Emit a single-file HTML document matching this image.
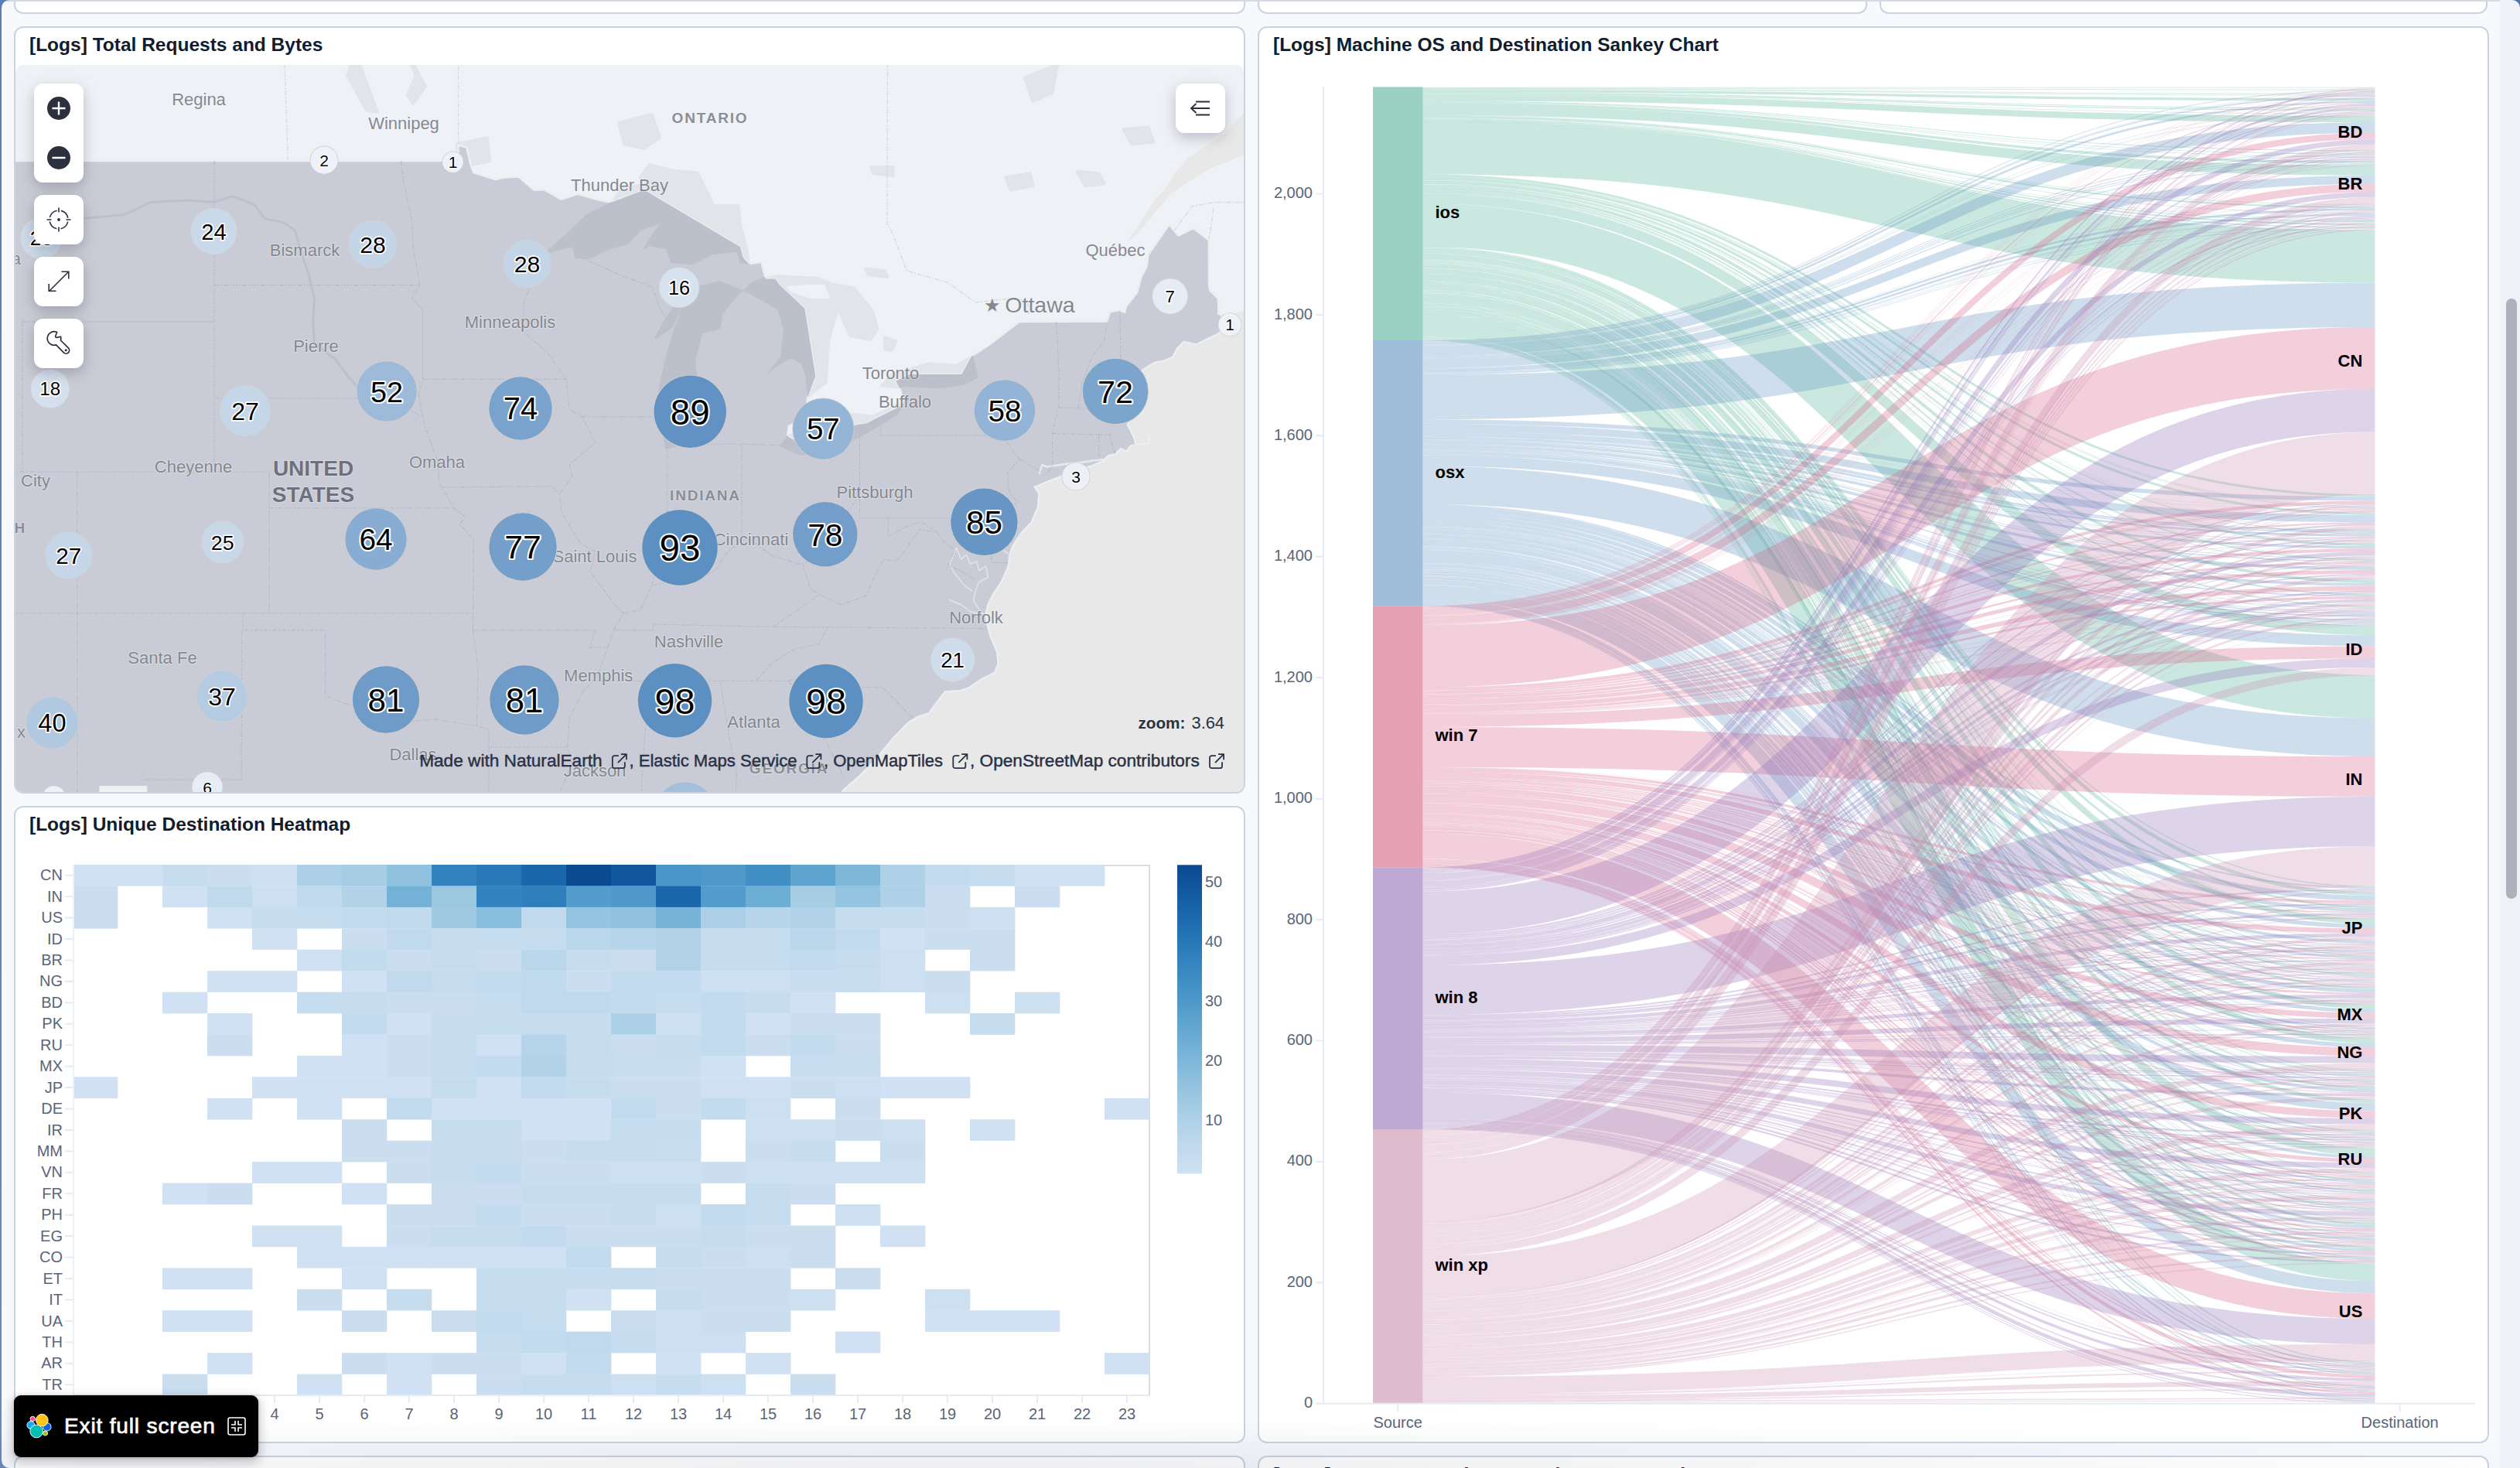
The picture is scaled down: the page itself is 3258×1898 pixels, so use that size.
<!DOCTYPE html><html><head><meta charset="utf-8"><title>[Logs] Web Traffic</title><style>
*{box-sizing:border-box;margin:0;padding:0}
html,body{width:3258px;height:1898px;overflow:hidden}
body{background:#f7f9fd;font-family:"Liberation Sans", Arial, sans-serif;position:relative}
.p{position:absolute;background:#fff;border:2px solid #cad3e2;border-radius:12px}
.t{position:absolute;left:18px;top:8px;font-weight:700;font-size:24.5px;line-height:28px;color:#111c2c;white-space:nowrap}
svg{position:absolute;left:0;top:0}
</style></head><body>
<div class="p" style="left:18px;top:-40px;width:1592px;height:58px"></div>
<div class="p" style="left:1626px;top:-40px;width:788px;height:58px"></div>
<div class="p" style="left:2430px;top:-40px;width:786px;height:58px"></div>
<div class="p" style="left:18px;top:34px;width:1592px;height:992px"><div class="t">[Logs] Total Requests and Bytes</div></div>
<div class="p" style="left:18px;top:1042px;width:1592px;height:824px"><div class="t">[Logs] Unique Destination Heatmap</div></div>
<div class="p" style="left:1626px;top:34px;width:1592px;height:1832px"><div class="t">[Logs] Machine OS and Destination Sankey Chart</div></div>
<div class="p" style="left:18px;top:1882px;width:1592px;height:200px"></div>
<div class="p" style="left:1626px;top:1882px;width:1592px;height:200px"><div class="t" style="top:9px">[Logs] Response Codes Over Time + Annotations</div></div>
<div style="position:absolute;left:0;top:0;width:3232px;height:2px;background:#d3dae6"></div>
<svg width="3258" height="1898" viewBox="0 0 3258 1898">
<defs><clipPath id="mclip"><path d="M20,94 a10,10 0 0 1 10,-10 H1598 a10,10 0 0 1 10,10 V1014 a10,10 0 0 1 -10,10 H30 a10,10 0 0 1 -10,-10 Z"/></clipPath>
<clipPath id="usclip"><path d="M-22.6,208.0 L592.5,208.0 L592.5,187.4 L603.2,190.6 L608.6,213.4 L612.1,223.1 L640.5,232.2 L651.1,229.5 L670.6,228.5 L690.1,245.6 L704.3,245.6 L725.6,257.8 L746.8,250.9 L775.2,258.9 L790.5,261.5 L833.0,245.6 L957.1,319.2 L960.7,333.2 L968.5,341.4 L984.4,338.9 L989.7,360.4 L1002.2,360.4 L1007.5,368.1 L1040.5,399.0 L1054.3,486.0 L1044.0,514.7 L1041.2,534.1 L1028.8,546.1 L1019.9,550.9 L1018.1,562.8 L1019.9,565.2 L1044.0,578.0 L1085.5,553.3 L1120.9,547.0 L1165.3,524.4 L1167.8,517.1 L1163.5,502.6 L1158.2,492.8 L1175.9,484.0 L1243.3,484.0 L1255.7,460.9 L1278.7,446.0 L1317.8,416.1 L1431.2,415.6 L1434.8,403.6 L1445.4,401.0 L1454.3,403.6 L1456.0,396.0 L1470.2,378.3 L1475.5,357.9 L1482.6,345.0 L1484.4,329.6 L1511.7,290.0 L1518.1,298.4 L1523.4,304.6 L1542.9,295.2 L1562.8,310.4 L1563.1,368.1 L1564.2,375.7 L1574.8,385.9 L1575.5,406.1 L1578.4,406.6 L1584.0,420.0 L1575.7,431.4 L1560.7,438.4 L1546.5,445.5 L1530.5,442.0 L1521.7,450.8 L1516.4,461.5 L1504.0,466.8 L1493.4,468.6 L1484.5,473.9 L1477.4,478.3 L1468.0,510.0 L1457.9,550.0 L1463.2,558.9 L1466.8,567.7 L1468.6,574.8 L1461.5,576.6 L1456.2,583.7 L1449.1,580.1 L1442.0,587.2 L1433.1,589.0 L1429.6,592.5 L1427.0,595.5 L1411.0,602.5 L1392.0,609.0 L1372.0,616.0 L1352.0,623.5 L1341.0,628.5 L1337.5,629.3 L1343.4,638.1 L1341.9,655.7 L1333.1,676.2 L1321.4,687.9 L1309.7,705.4 L1305.3,717.2 L1303.8,731.8 L1295.0,752.3 L1284.8,767.0 L1277.5,781.6 L1274.5,793.3 L1276.0,805.0 L1280.4,822.6 L1289.2,843.1 L1290.6,857.8 L1286.3,869.5 L1268.7,878.3 L1254.0,888.5 L1242.3,892.9 L1221.8,894.4 L1207.2,913.4 L1201.3,922.2 L1186.7,926.6 L1174.9,933.9 L1157.4,951.5 L1142.7,969.1 L1128.1,986.6 L1110.5,1004.2 L1090.0,1021.8 L1078.3,1039.4 L189.1,1070.3 L189.1,1017.2 L129.5,1017.2 L129.5,1035.9 L-22.6,1035.9Z"/></clipPath>
<filter id="sh" x="-50%" y="-50%" width="200%" height="200%"><feDropShadow dx="0" dy="6" stdDeviation="9" flood-color="#07101f" flood-opacity="0.22"/></filter></defs>
<g clip-path="url(#mclip)">
<rect x="20" y="84" width="1588" height="940" fill="#eef1f5"/>
<path d="M1626.3,396.0 L1583.7,408.6 L1578.4,406.6 L1584.0,420.0 L1575.7,431.4 L1560.7,438.4 L1546.5,445.5 L1530.5,442.0 L1521.7,450.8 L1516.4,461.5 L1504.0,466.8 L1493.4,468.6 L1484.5,473.9 L1477.4,478.3 L1468.0,510.0 L1457.9,550.0 L1463.2,558.9 L1466.8,567.7 L1468.6,574.8 L1461.5,576.6 L1456.2,583.7 L1449.1,580.1 L1442.0,587.2 L1433.1,589.0 L1429.6,592.5 L1427.0,595.5 L1411.0,602.5 L1392.0,609.0 L1372.0,616.0 L1352.0,623.5 L1341.0,628.5 L1337.5,629.3 L1343.4,638.1 L1341.9,655.7 L1333.1,676.2 L1321.4,687.9 L1309.7,705.4 L1305.3,717.2 L1303.8,731.8 L1295.0,752.3 L1284.8,767.0 L1277.5,781.6 L1274.5,793.3 L1276.0,805.0 L1280.4,822.6 L1289.2,843.1 L1290.6,857.8 L1286.3,869.5 L1268.7,878.3 L1254.0,888.5 L1242.3,892.9 L1221.8,894.4 L1207.2,913.4 L1201.3,922.2 L1186.7,926.6 L1174.9,933.9 L1157.4,951.5 L1142.7,969.1 L1128.1,986.6 L1110.5,1004.2 L1090.0,1021.8 L1078.3,1039.4 L1626.3,1070.3Z" fill="#e8e8e8"/>
<path d="M1623.3,133.0 L1608.3,145.3 L1582.4,173.9 L1552.4,193.0 L1536.1,203.9 L1519.7,222.9 L1506.1,244.7 L1492.5,258.4 L1476.2,285.6 L1457.1,312.8 L1470.7,301.9 L1497.9,269.3 L1514.3,250.2 L1536.1,235.2 L1566.1,217.5 L1608.3,199.8 L1623.3,193.0Z" fill="#e8e8e8"/>
<path d="M700.7,329.6 L739.8,319.2 L743.3,333.7 L761.0,335.8 L789.4,321.8 L810.7,316.6 L828.4,298.4 L853.2,289.5 L839.0,308.8 L830.2,324.4 L839.0,318.2 L860.3,321.8 L867.4,339.9 L895.8,342.5 L920.6,329.6 L952.5,325.9 L956.1,339.9 L970.2,342.5 L966.7,319.2 L959.6,293.1 L956.1,264.2 L924.1,264.2 L902.9,221.5 L871.0,218.8 L839.0,210.7 L824.9,229.5 L831.9,237.6 L803.6,240.2 L789.4,261.5 L757.5,277.4 L722.0,311.4Z" fill="#e1e5ea"/>
<path d="M860.3,580.9 L853.2,538.9 L849.7,514.7 L855.0,485.5 L862.1,456.0 L871.0,426.1 L881.6,401.0 L869.2,423.6 L847.9,438.6 L846.1,436.1 L860.3,411.1 L881.6,380.8 L899.3,370.6 L931.2,363.0 L961.4,375.7 L952.5,383.3 L934.8,406.1 L931.2,426.1 L908.2,431.1 L899.3,465.8 L901.1,485.5 L910.0,514.7 L906.4,548.5 L888.7,574.7Z" fill="#e1e5ea"/>
<path d="M961.4,375.7 L970.2,365.5 L988.0,357.9 L1005.7,355.3 L1058.9,357.9 L1076.6,365.5 L1105.0,370.6 L1129.8,401.0 L1136.9,426.1 L1126.3,441.1 L1097.9,436.1 L1083.7,403.6 L1073.1,441.1 L1069.5,495.3 L1044.7,514.7 L1041.2,485.5 L1035.8,470.8 L1023.4,463.4 L1009.2,470.8 L991.5,483.0 L1009.2,460.9 L1012.8,426.1 L1005.7,401.0 L984.4,388.4Z" fill="#e1e5ea"/>
<path d="M1007.5,577.1 L1019.9,560.4 L1041.2,562.8 L1062.4,550.9 L1087.3,531.6 L1115.6,535.5 L1128.0,536.5 L1161.7,521.0 L1168.8,522.0 L1160.0,536.5 L1138.3,549.9 L1112.1,565.2 L1069.5,586.6 L1034.1,589.0Z" fill="#e1e5ea"/>
<path d="M1136.9,500.1 L1151.1,483.0 L1200.7,468.3 L1236.2,470.8 L1257.5,458.4 L1264.6,487.9 L1246.8,497.7 L1214.9,502.6 L1168.8,500.1 L1161.7,502.6Z" fill="#e1e5ea"/>
<path d="M1027.0,546.1 L1034.1,531.6 L1042.9,536.5 L1042.9,546.1Z" fill="#e1e5ea"/>
<path d="M459.6,69.3 L480.9,125.7 L488.0,145.1 L473.8,142.3 L449.0,97.6Z" fill="#e1e5ea" stroke="#e1e5ea" stroke-width="4" stroke-linejoin="round"/>
<path d="M527.0,69.3 L550.0,111.7 L534.1,134.0 L527.0,122.9 L537.6,97.6Z" fill="#e1e5ea" stroke="#e1e5ea" stroke-width="4" stroke-linejoin="round"/>
<path d="M590.8,186.3 L629.8,178.1 L633.4,208.0 L608.6,213.4 L592.6,208.0Z" fill="#e1e5ea" stroke="#e1e5ea" stroke-width="4" stroke-linejoin="round"/>
<path d="M800.0,158.9 L842.6,147.9 L853.2,178.1 L831.9,191.7 L807.1,186.3Z" fill="#e1e5ea" stroke="#e1e5ea" stroke-width="4" stroke-linejoin="round"/>
<path d="M1119.2,347.6 L1144.0,350.2 L1147.5,357.9 L1122.7,355.3Z" fill="#e1e5ea" stroke="#e1e5ea" stroke-width="4" stroke-linejoin="round"/>
<path d="M1144.0,436.1 L1158.2,441.1 L1152.9,453.5 L1144.0,451.0Z" fill="#e1e5ea" stroke="#e1e5ea" stroke-width="4" stroke-linejoin="round"/>
<path d="M1392.2,221.5 L1420.6,224.2 L1427.7,237.6 L1402.9,240.2Z" fill="#e1e5ea" stroke="#e1e5ea" stroke-width="4" stroke-linejoin="round"/>
<path d="M1300.0,229.5 L1331.9,224.2 L1335.5,240.2 L1307.1,245.6Z" fill="#e1e5ea" stroke="#e1e5ea" stroke-width="4" stroke-linejoin="round"/>
<path d="M1126.3,216.1 L1154.6,216.1 L1154.6,226.9 L1129.8,224.2Z" fill="#e1e5ea" stroke="#e1e5ea" stroke-width="4" stroke-linejoin="round"/>
<path d="M1324.8,100.5 L1367.4,83.5 L1360.3,120.1 L1335.5,131.2Z" fill="#e1e5ea" stroke="#e1e5ea" stroke-width="4" stroke-linejoin="round"/>
<path d="M1452.5,167.2 L1484.4,164.4 L1491.5,183.6 L1463.1,186.3Z" fill="#e1e5ea" stroke="#e1e5ea" stroke-width="4" stroke-linejoin="round"/>
<path d="M1016.3,370.6 L1041.2,368.1 L1066.0,368.1 L1073.1,385.9 L1048.3,385.9 L1023.4,378.3Z" fill="#eef1f5"/>
<path d="M367.4,69.3 L372.4,208.0" fill="none" stroke="#d5d9e0" stroke-width="1.3" stroke-dasharray="6 2 2 2"/>
<path d="M592.5,187.4 L592.5,69.3" fill="none" stroke="#d5d9e0" stroke-width="1.3" stroke-dasharray="6 2 2 2"/>
<path d="M1147.5,69.3 L1146.8,287.9 L1154.6,303.6 L1172.4,350.2 L1225.6,365.5 L1261.0,390.9 L1307.1,385.9 L1328.4,388.4 L1330.2,406.1" fill="none" stroke="#d5d9e0" stroke-width="1.3" stroke-dasharray="6 2 2 2"/>
<path d="M1518.1,298.4 L1541.1,266.8 L1569.5,261.5 L1626.3,261.5" fill="none" stroke="#d5d9e0" stroke-width="1.3" stroke-dasharray="6 2 2 2"/>
<path d="M1562.8,310.4 L1569.5,266.8" fill="none" stroke="#d5d9e0" stroke-width="1.3" stroke-dasharray="6 2 2 2"/>
<path d="M-22.6,208.0 L592.5,208.0 L592.5,187.4 L603.2,190.6 L608.6,213.4 L612.1,223.1 L640.5,232.2 L651.1,229.5 L670.6,228.5 L690.1,245.6 L704.3,245.6 L725.6,257.8 L746.8,250.9 L775.2,258.9 L790.5,261.5 L833.0,245.6 L957.1,319.2 L960.7,333.2 L968.5,341.4 L984.4,338.9 L989.7,360.4 L1002.2,360.4 L1007.5,368.1 L1040.5,399.0 L1054.3,486.0 L1044.0,514.7 L1041.2,534.1 L1028.8,546.1 L1019.9,550.9 L1018.1,562.8 L1019.9,565.2 L1044.0,578.0 L1085.5,553.3 L1120.9,547.0 L1165.3,524.4 L1167.8,517.1 L1163.5,502.6 L1158.2,492.8 L1175.9,484.0 L1243.3,484.0 L1255.7,460.9 L1278.7,446.0 L1317.8,416.1 L1431.2,415.6 L1434.8,403.6 L1445.4,401.0 L1454.3,403.6 L1456.0,396.0 L1470.2,378.3 L1475.5,357.9 L1482.6,345.0 L1484.4,329.6 L1511.7,290.0 L1518.1,298.4 L1523.4,304.6 L1542.9,295.2 L1562.8,310.4 L1563.1,368.1 L1564.2,375.7 L1574.8,385.9 L1575.5,406.1 L1578.4,406.6 L1584.0,420.0 L1575.7,431.4 L1560.7,438.4 L1546.5,445.5 L1530.5,442.0 L1521.7,450.8 L1516.4,461.5 L1504.0,466.8 L1493.4,468.6 L1484.5,473.9 L1477.4,478.3 L1468.0,510.0 L1457.9,550.0 L1463.2,558.9 L1466.8,567.7 L1468.6,574.8 L1461.5,576.6 L1456.2,583.7 L1449.1,580.1 L1442.0,587.2 L1433.1,589.0 L1429.6,592.5 L1427.0,595.5 L1411.0,602.5 L1392.0,609.0 L1372.0,616.0 L1352.0,623.5 L1341.0,628.5 L1337.5,629.3 L1343.4,638.1 L1341.9,655.7 L1333.1,676.2 L1321.4,687.9 L1309.7,705.4 L1305.3,717.2 L1303.8,731.8 L1295.0,752.3 L1284.8,767.0 L1277.5,781.6 L1274.5,793.3 L1276.0,805.0 L1280.4,822.6 L1289.2,843.1 L1290.6,857.8 L1286.3,869.5 L1268.7,878.3 L1254.0,888.5 L1242.3,892.9 L1221.8,894.4 L1207.2,913.4 L1201.3,922.2 L1186.7,926.6 L1174.9,933.9 L1157.4,951.5 L1142.7,969.1 L1128.1,986.6 L1110.5,1004.2 L1090.0,1021.8 L1078.3,1039.4 L189.1,1070.3 L189.1,1017.2 L129.5,1017.2 L129.5,1035.9 L-22.6,1035.9Z" fill="#c9ccd6" stroke="#eceef2" stroke-width="2.4" stroke-linejoin="round"/>
<path d="M1344.0,612.0 L1347.3,601.0 L1353.5,603.5 L1380.0,599.6 L1397.7,597.9 L1415.4,595.2 L1426.0,594.0" fill="none" stroke="#e6e8ed" stroke-width="2.6" stroke-linejoin="round" stroke-linecap="round"/>
<path d="M1468.6,574.8 L1484.5,573.1 L1486.3,564.2 L1481.0,558.9" fill="none" stroke="#eceef2" stroke-width="2.2" stroke-linejoin="round"/>
<path d="M1227.7,728.9 L1236.5,708.4 L1242.3,723.0 L1249.6,717.2 L1254.0,728.9 L1262.8,726.0 L1265.7,737.7 L1274.5,731.8 L1277.5,746.5 L1265.7,752.3 L1261.4,764.0 L1258.4,775.7 L1265.7,787.5 L1273.1,796.3" fill="none" stroke="#dfe2e8" stroke-width="1.7" stroke-linejoin="round" stroke-linecap="round"/>
<path d="M1227.7,728.9 L1233.5,740.6 L1248.2,758.2 L1257.0,764.0" fill="none" stroke="#dfe2e8" stroke-width="1.7" stroke-linejoin="round" stroke-linecap="round"/>
<path d="M1227.7,775.7 L1242.3,781.6 L1254.0,790.4 L1265.7,793.3" fill="none" stroke="#dfe2e8" stroke-width="1.7" stroke-linejoin="round" stroke-linecap="round"/>
<path d="M1305.3,717.2 L1295.0,709.8 L1286.3,696.7" fill="none" stroke="#dfe2e8" stroke-width="1.7" stroke-linejoin="round" stroke-linecap="round"/>
<g clip-path="url(#usclip)">
<path d="M700.7,329.6 L739.8,319.2 L743.3,333.7 L761.0,335.8 L789.4,321.8 L810.7,316.6 L828.4,298.4 L853.2,289.5 L839.0,308.8 L830.2,324.4 L839.0,318.2 L860.3,321.8 L867.4,339.9 L895.8,342.5 L920.6,329.6 L952.5,325.9 L956.1,339.9 L970.2,342.5 L966.7,319.2 L959.6,293.1 L956.1,264.2 L924.1,264.2 L902.9,221.5 L871.0,218.8 L839.0,210.7 L824.9,229.5 L831.9,237.6 L803.6,240.2 L789.4,261.5 L757.5,277.4 L722.0,311.4Z" fill="#bcc0cb"/>
<path d="M860.3,580.9 L853.2,538.9 L849.7,514.7 L855.0,485.5 L862.1,456.0 L871.0,426.1 L881.6,401.0 L869.2,423.6 L847.9,438.6 L846.1,436.1 L860.3,411.1 L881.6,380.8 L899.3,370.6 L931.2,363.0 L961.4,375.7 L952.5,383.3 L934.8,406.1 L931.2,426.1 L908.2,431.1 L899.3,465.8 L901.1,485.5 L910.0,514.7 L906.4,548.5 L888.7,574.7Z" fill="#bcc0cb"/>
<path d="M961.4,375.7 L970.2,365.5 L988.0,357.9 L1005.7,355.3 L1058.9,357.9 L1076.6,365.5 L1105.0,370.6 L1129.8,401.0 L1136.9,426.1 L1126.3,441.1 L1097.9,436.1 L1083.7,403.6 L1073.1,441.1 L1069.5,495.3 L1044.7,514.7 L1041.2,485.5 L1035.8,470.8 L1023.4,463.4 L1009.2,470.8 L991.5,483.0 L1009.2,460.9 L1012.8,426.1 L1005.7,401.0 L984.4,388.4Z" fill="#bcc0cb"/>
<path d="M1007.5,577.1 L1019.9,560.4 L1041.2,562.8 L1062.4,550.9 L1087.3,531.6 L1115.6,535.5 L1128.0,536.5 L1161.7,521.0 L1168.8,522.0 L1160.0,536.5 L1138.3,549.9 L1112.1,565.2 L1069.5,586.6 L1034.1,589.0Z" fill="#bcc0cb"/>
<path d="M1136.9,500.1 L1151.1,483.0 L1200.7,468.3 L1236.2,470.8 L1257.5,458.4 L1264.6,487.9 L1246.8,497.7 L1214.9,502.6 L1168.8,500.1 L1161.7,502.6Z" fill="#bcc0cb"/>
<path d="M1027.0,546.1 L1034.1,531.6 L1042.9,536.5 L1042.9,546.1Z" fill="#bcc0cb"/>
<path d="M108.6,282.6 L161.8,277.4 L193.7,261.5 L243.3,258.9 L277.0,261.5 L300.0,253.6 L328.4,264.2 L342.6,282.6 L367.4,287.9 L381.6,298.4 L388.7,324.4 L399.3,355.3 L406.4,385.9 L404.7,416.1 L406.4,443.6 L434.8,465.8 L449.0,485.5 L470.3,509.9 L491.5,524.4 L516.4,522.0" fill="none" stroke="#bcc0cb" stroke-width="3" stroke-linejoin="round"/>
<g fill="none" stroke="#b6bac6" stroke-width="1.1" stroke-dasharray="6 2 2 2">
<path d="M277.0,208.0 L277.0,610.2"/>
<path d="M28.8,416.1 L277.0,416.1"/>
<path d="M277.0,368.6 L542.6,368.6"/>
<path d="M277.0,514.7 L473.8,514.7 L491.5,524.4 L512.8,522.0 L537.6,534.1 L546.5,539.3"/>
<path d="M28.8,416.1 L28.8,610.2"/>
<path d="M-22.6,610.2 L347.9,610.2"/>
<path d="M347.9,610.2 L347.9,792.8"/>
<path d="M347.9,656.8 L587.3,656.8"/>
<path d="M99.7,610.2 L99.7,1035.9"/>
<path d="M-22.6,792.8 L611.4,792.8"/>
<path d="M314.2,792.8 L314.2,814.9 L420.6,814.9 L420.6,899.4 L449.0,910.6 L488.0,919.2 L519.9,934.1 L562.5,929.9 L616.4,938.8 L632.0,942.7 L632.0,1049.6"/>
<path d="M312.8,814.9 L312.1,1008.0 L186.6,1008.0"/>
<path d="M518.8,208.0 L521.7,234.9 L532.3,282.6 L534.1,319.2 L542.6,368.6 L532.3,385.9 L546.5,401.0 L546.5,490.4 L541.2,509.9 L546.5,539.3 L550.0,553.3 L558.9,577.1 L566.0,596.0 L567.8,624.2 L570.6,629.8 L587.3,656.8 L601.5,668.4 L594.4,677.6 L612.1,698.2 L611.4,814.9"/>
<path d="M546.5,490.4 L732.0,490.4"/>
<path d="M570.6,629.8 L713.9,628.9 L723.8,639.2"/>
<path d="M611.4,814.9 L769.9,814.9 L762.1,836.9 L785.9,836.9"/>
<path d="M611.4,814.9 L618.1,863.1 L616.4,938.8"/>
<path d="M632.0,966.0 L733.7,966.0"/>
<path d="M694.0,331.6 L693.7,360.4 L677.7,385.9 L675.9,428.6 L707.8,456.0 L732.0,490.4 L736.2,529.2 L752.5,538.9 L769.5,572.3 L736.2,600.8 L739.8,614.9 L723.8,639.2 L725.6,661.4 L750.4,702.8 L768.8,711.9 L768.1,721.0 L762.8,739.1 L792.9,779.4 L806.1,792.8 L792.9,814.9 L785.9,836.9 L771.7,876.1 L753.9,893.4 L736.2,927.7 L733.7,966.0 L739.8,987.1 L722.0,1028.9 L718.5,1049.6"/>
<path d="M1111.4,548.5 L1111.4,669.7"/>
<path d="M1111.4,627.0 L1106.8,647.5 L1069.5,693.6 L1051.8,721.0 L1037.6,730.0 L998.6,718.7 L970.2,698.2 L958.9,698.2 L938.3,716.4 L925.9,735.9 L899.3,752.6 L863.9,752.6 L842.6,757.1 L828.4,788.3 L806.1,792.8"/>
<path d="M752.5,538.9 L853.2,538.9"/>
<path d="M862.8,574.2 L862.8,686.7 L847.9,739.1 L842.6,757.1"/>
<path d="M958.9,574.2 L958.9,698.2"/>
<path d="M874.5,574.2 L958.9,574.2 L1007.5,575.7"/>
<path d="M761.0,337.3 L807.1,357.9 L842.6,370.6 L853.2,398.5 L860.3,411.1"/>
<path d="M1138.3,549.9 L1138.3,562.8 L1294.7,562.8 L1317.8,593.2 L1302.5,611.6 L1305.3,638.2 L1316.0,648.5 L1301.8,661.4 L1287.6,675.3"/>
<path d="M1111.4,669.7 L1279.1,669.7 L1282.3,727.3 L1305.3,727.8"/>
<path d="M1148.3,669.7 L1148.3,693.6 L1168.8,682.2 L1190.1,674.3 L1210.7,688.1 L1218.5,698.2 L1234.4,711.9 L1225.6,730.0 L1239.7,736.8 L1261.0,750.3"/>
<path d="M1037.6,730.0 L1048.3,761.5 L1060.0,768.7 L1087.3,781.6 L1119.2,770.5 L1129.8,748.1 L1142.2,723.2 L1158.2,725.5 L1169.9,711.9 L1188.3,684.5 L1210.7,688.1"/>
<path d="M999.3,810.5 L1060.0,768.7"/>
<path d="M792.9,814.9 L844.4,814.9 L844.4,806.9 L999.3,810.5 L1070.2,810.9 L1276.3,812.7"/>
<path d="M764.6,880.4 L1019.9,880.4"/>
<path d="M839.0,880.4 L829.5,1012.2 L831.9,1074.4"/>
<path d="M931.2,881.3 L946.1,971.5 L952.5,995.5 L950.7,1049.6"/>
<path d="M977.3,880.4 L998.6,856.5 L1027.0,839.1 L1058.9,832.5 L1070.2,810.9"/>
<path d="M1019.9,880.4 L1044.7,871.8 L1092.6,873.9 L1101.4,888.2 L1141.2,889.1 L1181.2,929.4"/>
<path d="M1019.9,880.4 L1037.6,906.3 L1060.7,944.8 L1090.8,1003.9"/>
<path d="M1317.8,593.2 L1346.1,610.2"/>
<path d="M1355.0,610.2 L1361.0,600.8 L1360.3,560.4 L1368.5,526.8 L1369.2,485.5 L1365.6,416.1"/>
<path d="M1368.5,526.8 L1394.0,527.8 L1438.3,529.2 L1452.5,520.5"/>
<path d="M1394.0,527.8 L1399.3,495.3 L1411.7,460.9 L1427.7,441.1 L1431.2,415.6"/>
<path d="M1360.3,560.4 L1420.6,561.9 L1435.5,561.9 L1435.5,567.6 L1441.9,586.6"/>
<path d="M1420.6,561.9 L1420.6,591.3"/>
<path d="M1459.6,509.9 L1449.0,485.5 L1447.9,401.0"/>
</g></g>
<g font-family='"Liberation Sans", Arial, sans-serif' text-anchor="middle" paint-order="stroke" stroke-linejoin="round">
<g font-size="22" fill="#85888f" stroke="rgba(255,255,255,0.35)" stroke-width="2">
<text x="257.0" y="136.0">Regina</text>
<text x="522.0" y="167.0">Winnipeg</text>
<text x="801.0" y="247.0">Thunder Bay</text>
<text x="394.0" y="331.0">Bismarck</text>
<text x="659.5" y="424.0">Minneapolis</text>
<text x="408.5" y="454.5">Pierre</text>
<text x="1442.0" y="331.0">Québec</text>
<text x="1151.5" y="490.0">Toronto</text>
<text x="1170.0" y="527.0">Buffalo</text>
<text x="250.0" y="611.0">Cheyenne</text>
<text x="565.0" y="605.0">Omaha</text>
<text x="1131.0" y="643.5">Pittsburgh</text>
<text x="769.0" y="727.0">Saint Louis</text>
<text x="971.0" y="705.0">Cincinnati</text>
<text x="1262.0" y="806.0">Norfolk</text>
<text x="890.5" y="837.0">Nashville</text>
<text x="773.7" y="881.0">Memphis</text>
<text x="210.0" y="858.0">Santa Fe</text>
<text x="974.6" y="941.0">Atlanta</text>
<text x="534.0" y="982.5">Dallas</text>
<text x="769.0" y="1004.0">Jackson</text>
<text x="65" y="629" text-anchor="end">e City</text><text x="27" y="342" text-anchor="end">a</text><text x="33" y="954" text-anchor="end">x</text>
</g>
<text x="1344.500" y="404" font-size="28.5" fill="#85888f" stroke="rgba(255,255,255,0.35)" stroke-width="2">Ottawa</text>
<text x="1283" y="403" font-size="24" fill="#85888f">★</text>
<g font-size="19" font-weight="bold" fill="#8c8e96" letter-spacing="1.8" stroke="rgba(255,255,255,0.3)" stroke-width="2">
<text x="918.0" y="159.0">ONTARIO</text>
<text x="912.0" y="647.0">INDIANA</text>
<text x="1020.0" y="1000.0">GEORGIA</text>
<text x="34" y="689" text-anchor="end">H</text>
</g>
<g font-size="28" font-weight="bold" fill="#6d717e" stroke="rgba(255,255,255,0.3)" stroke-width="2"><text x="405" y="615">UNITED</text><text x="405" y="649">STATES</text></g>
</g>
<g font-family='"Liberation Sans", Arial, sans-serif' text-anchor="middle" paint-order="stroke" stroke-linejoin="round">
<circle cx="419.0" cy="207.0" r="17.7" fill="#eef1f7" stroke="#d2cfcb" stroke-width="1.6"/>
<circle cx="585.5" cy="209.5" r="13.3" fill="#eef1f7" stroke="#d2cfcb" stroke-width="1.6"/>
<circle cx="276.5" cy="299.0" r="29.7" fill="#cad9ea" stroke="#d2cfcb" stroke-width="1.6"/>
<circle cx="482.0" cy="315.7" r="30.7" fill="#c4d5e7" stroke="#d2cfcb" stroke-width="1.6"/>
<circle cx="681.6" cy="341.0" r="30.7" fill="#c4d5e7" stroke="#d2cfcb" stroke-width="1.6"/>
<circle cx="878.0" cy="371.7" r="25.7" fill="#d7e2ef" stroke="#d2cfcb" stroke-width="1.6"/>
<circle cx="1512.7" cy="383.0" r="22.7" fill="#e6ecf4" stroke="#d2cfcb" stroke-width="1.6"/>
<circle cx="1590.0" cy="419.8" r="14.7" fill="#eef1f7" stroke="#d2cfcb" stroke-width="1.6"/>
<circle cx="53.4" cy="308.0" r="26.7" fill="#ccdaea" stroke="#d2cfcb" stroke-width="1.6"/>
<circle cx="64.8" cy="502.6" r="24.7" fill="#d4e0ed" stroke="#d2cfcb" stroke-width="1.6"/>
<circle cx="317.0" cy="531.0" r="32.7" fill="#c5d6e8" stroke="#d2cfcb" stroke-width="1.6"/>
<circle cx="500.0" cy="506.0" r="38.7" fill="#9dbad9" stroke="#d2cfcb" stroke-width="1.6"/>
<circle cx="673.0" cy="528.0" r="40.7" fill="#79a2cc" stroke="#d2cfcb" stroke-width="1.6"/>
<circle cx="892.2" cy="532.2" r="46.7" fill="#6192c3" stroke="#d2cfcb" stroke-width="1.6"/>
<circle cx="1064.3" cy="554.5" r="39.3" fill="#95b5d6" stroke="#d2cfcb" stroke-width="1.6"/>
<circle cx="1299.0" cy="530.6" r="39.4" fill="#93b4d6" stroke="#d2cfcb" stroke-width="1.6"/>
<circle cx="1442.0" cy="506.0" r="42.2" fill="#7ca5cd" stroke="#d2cfcb" stroke-width="1.6"/>
<circle cx="1391.0" cy="616.0" r="17.7" fill="#ecf0f6" stroke="#d2cfcb" stroke-width="1.6"/>
<circle cx="1272.4" cy="674.8" r="43.2" fill="#6796c5" stroke="#d2cfcb" stroke-width="1.6"/>
<circle cx="1066.8" cy="690.8" r="41.7" fill="#739eca" stroke="#d2cfcb" stroke-width="1.6"/>
<circle cx="879.0" cy="708.0" r="48.7" fill="#5c90c2" stroke="#d2cfcb" stroke-width="1.6"/>
<circle cx="676.0" cy="707.0" r="43.7" fill="#749fca" stroke="#d2cfcb" stroke-width="1.6"/>
<circle cx="486.0" cy="697.0" r="39.7" fill="#89add2" stroke="#d2cfcb" stroke-width="1.6"/>
<circle cx="287.7" cy="701.0" r="27.2" fill="#c8d8e9" stroke="#d2cfcb" stroke-width="1.6"/>
<circle cx="88.8" cy="718.0" r="30.2" fill="#c5d6e8" stroke="#d2cfcb" stroke-width="1.6"/>
<circle cx="1231.6" cy="853.0" r="28.2" fill="#cfdcec" stroke="#d2cfcb" stroke-width="1.6"/>
<circle cx="1068.0" cy="906.5" r="47.7" fill="#5c90c2" stroke="#d2cfcb" stroke-width="1.6"/>
<circle cx="872.5" cy="905.8" r="47.7" fill="#5c90c2" stroke="#d2cfcb" stroke-width="1.6"/>
<circle cx="678.0" cy="905.0" r="44.7" fill="#6e9bc8" stroke="#d2cfcb" stroke-width="1.6"/>
<circle cx="499.0" cy="904.5" r="43.2" fill="#6e9bc8" stroke="#d2cfcb" stroke-width="1.6"/>
<circle cx="287.0" cy="900.5" r="32.7" fill="#b5cbe2" stroke="#d2cfcb" stroke-width="1.6"/>
<circle cx="67.4" cy="934.5" r="33.2" fill="#b0c8e0" stroke="#d2cfcb" stroke-width="1.6"/>
<circle cx="268.0" cy="1018.0" r="19.7" fill="#e7edf5" stroke="#d2cfcb" stroke-width="1.6"/>
<circle cx="885.5" cy="1051.0" r="39.7" fill="#a3bfdb" stroke="#d2cfcb" stroke-width="1.6"/>
<circle cx="70.0" cy="1031.0" r="14.7" fill="#eef1f7" stroke="#d2cfcb" stroke-width="1.6"/>
<text x="419.0" y="214.6" font-size="21.0" fill="#000" stroke="#fff" stroke-width="2.6">2</text>
<text x="585.5" y="217.1" font-size="21.0" fill="#000" stroke="#fff" stroke-width="2.6">1</text>
<text x="276.5" y="309.5" font-size="29.1" fill="#000" stroke="#fff" stroke-width="3.4">24</text>
<text x="482.0" y="326.5" font-size="30.1" fill="#000" stroke="#fff" stroke-width="3.4">28</text>
<text x="681.6" y="351.8" font-size="30.1" fill="#000" stroke="#fff" stroke-width="3.4">28</text>
<text x="878.0" y="380.8" font-size="25.2" fill="#000" stroke="#fff" stroke-width="3.4">16</text>
<text x="1512.7" y="391.0" font-size="22.3" fill="#000" stroke="#fff" stroke-width="3.4">7</text>
<text x="1590.0" y="427.4" font-size="21.0" fill="#000" stroke="#fff" stroke-width="2.6">1</text>
<text x="53.4" y="317.4" font-size="26.2" fill="#000" stroke="#fff" stroke-width="3.4">23</text>
<text x="64.8" y="511.3" font-size="24.2" fill="#000" stroke="#fff" stroke-width="3.4">18</text>
<text x="317.0" y="542.5" font-size="32.0" fill="#000" stroke="#fff" stroke-width="3.4">27</text>
<text x="500.0" y="519.6" font-size="37.8" fill="#000" stroke="#fff" stroke-width="4.2">52</text>
<text x="673.0" y="542.3" font-size="39.8" fill="#000" stroke="#fff" stroke-width="4.2">74</text>
<text x="892.2" y="548.6" font-size="45.6" fill="#000" stroke="#fff" stroke-width="4.2">89</text>
<text x="1064.3" y="568.3" font-size="38.4" fill="#000" stroke="#fff" stroke-width="4.2">57</text>
<text x="1299.0" y="544.5" font-size="38.5" fill="#000" stroke="#fff" stroke-width="4.2">58</text>
<text x="1442.0" y="520.8" font-size="41.2" fill="#000" stroke="#fff" stroke-width="4.2">72</text>
<text x="1391.0" y="623.6" font-size="21.0" fill="#000" stroke="#fff" stroke-width="2.6">3</text>
<text x="1272.4" y="690.0" font-size="42.2" fill="#000" stroke="#fff" stroke-width="4.2">85</text>
<text x="1066.8" y="705.5" font-size="40.7" fill="#000" stroke="#fff" stroke-width="4.2">78</text>
<text x="879.0" y="725.1" font-size="47.5" fill="#000" stroke="#fff" stroke-width="4.2">93</text>
<text x="676.0" y="722.4" font-size="42.7" fill="#000" stroke="#fff" stroke-width="4.2">77</text>
<text x="486.0" y="711.0" font-size="38.8" fill="#000" stroke="#fff" stroke-width="4.2">64</text>
<text x="287.7" y="710.6" font-size="26.7" fill="#000" stroke="#fff" stroke-width="3.4">25</text>
<text x="88.8" y="728.7" font-size="29.6" fill="#000" stroke="#fff" stroke-width="3.4">27</text>
<text x="1231.6" y="863.0" font-size="27.6" fill="#000" stroke="#fff" stroke-width="3.4">21</text>
<text x="1068.0" y="923.3" font-size="46.6" fill="#000" stroke="#fff" stroke-width="4.2">98</text>
<text x="872.5" y="922.6" font-size="46.6" fill="#000" stroke="#fff" stroke-width="4.2">98</text>
<text x="678.0" y="920.7" font-size="43.6" fill="#000" stroke="#fff" stroke-width="4.2">81</text>
<text x="499.0" y="919.7" font-size="42.2" fill="#000" stroke="#fff" stroke-width="4.2">81</text>
<text x="287.0" y="912.0" font-size="32.0" fill="#000" stroke="#fff" stroke-width="3.4">37</text>
<text x="67.4" y="946.2" font-size="32.5" fill="#000" stroke="#fff" stroke-width="3.4">40</text>
<text x="268.0" y="1025.6" font-size="21.0" fill="#000" stroke="#fff" stroke-width="2.6">6</text>
<text x="885.5" y="1065.0" font-size="38.8" fill="#000" stroke="#fff" stroke-width="4.2">48</text>
<text x="70.0" y="1038.6" font-size="21.0" fill="#000" stroke="#fff" stroke-width="2.6">2</text>
</g>
<rect x="44" y="108" width="64" height="128" rx="12" fill="#fff" filter="url(#sh)"/>
<rect x="44" y="252" width="64" height="64" rx="12" fill="#fff" filter="url(#sh)"/>
<rect x="44" y="332" width="64" height="64" rx="12" fill="#fff" filter="url(#sh)"/>
<rect x="44" y="412" width="64" height="64" rx="12" fill="#fff" filter="url(#sh)"/>
<rect x="1520" y="108" width="64" height="64" rx="12" fill="#fff" filter="url(#sh)"/>
<circle cx="76" cy="140" r="15" fill="#2b2f3e"/><path d="M76,131.5v17M67.5,140h17" stroke="#fff" stroke-width="2.4" fill="none"/>
<circle cx="76" cy="204" r="15" fill="#2b2f3e"/><path d="M67.5,204h17" stroke="#fff" stroke-width="2.4" fill="none"/>
<g fill="none" stroke="#2b2f3e" stroke-width="1.6"><circle cx="76" cy="284" r="12" stroke-dasharray="13.5 5.35" stroke-dashoffset="16.175"/><path d="M76,268.5v6M76,293.5v6M60.500,284h6M85.500,284h6"/></g><circle cx="76" cy="284" r="1.9" fill="#2b2f3e"/>
<g fill="none" stroke="#2b2f3e" stroke-width="1.6"><path d="M63.500,376.500L88,352M79.500,351.200h9.300v9.300M63.200,367v9.300h9.300"/></g>
<g fill="none" stroke="#2b2f3e" stroke-width="1.7" stroke-linejoin="round"><path d="M78.5,435.22A8.8,8.8 0 0 1 78.44,440L88.37,449.93A4.2,4.2 0 0 1 82.43,455.87L72.5,445.94A8.8,8.8 0 1 1 73.72,429.52L71.8,434.2Q71.2,436.6 73.6,436.4Z"/></g><circle cx="85.2" cy="452.7" r="1.5" fill="#2b2f3e"/>
<g fill="none" stroke="#2b2f3e" stroke-width="1.9" stroke-linecap="butt"><path d="M1546,131.500h18M1540,140h24M1546,148.500h18M1546.500,134l-6.500,6 6.500,6"/></g>
<g font-family='"Liberation Sans", Arial, sans-serif' fill="#2a3144">
<text x="1471.400" y="941.6" font-size="21" font-weight="bold" textLength="61" lengthAdjust="spacingAndGlyphs">zoom:</text><text x="1540.500" y="941.6" font-size="21.5" textLength="42.5" lengthAdjust="spacingAndGlyphs">3.64</text>
<g font-size="22.5" stroke="#2a3144" stroke-width="0.45">
<text x="542.2" y="990.8" textLength="236.4" lengthAdjust="spacingAndGlyphs">Made with NaturalEarth</text>
<text x="813.5" y="990.8" textLength="217.0" lengthAdjust="spacingAndGlyphs">, Elastic Maps Service</text>
<text x="1065.0" y="990.8" textLength="154.0" lengthAdjust="spacingAndGlyphs">, OpenMapTiles</text>
<text x="1254.0" y="990.8" textLength="296.7" lengthAdjust="spacingAndGlyphs">, OpenStreetMap contributors</text>
</g></g>
<g transform="translate(790.8,974.2)" fill="none" stroke="#2a3144" stroke-width="1.8" stroke-linejoin="round"><path d="M9,3H3.5a2.500,2.500 0 0 0 -2.500,2.500V16.500a2.500,2.500 0 0 0 2.500,2.500H14.500a2.500,2.500 0 0 0 2.500,-2.500V11"/><path d="M8,12L19,1M12,0.900h7.100v7.100"/></g>
<g transform="translate(1042.3,974.2)" fill="none" stroke="#2a3144" stroke-width="1.8" stroke-linejoin="round"><path d="M9,3H3.5a2.500,2.500 0 0 0 -2.500,2.500V16.500a2.500,2.500 0 0 0 2.500,2.500H14.500a2.500,2.500 0 0 0 2.500,-2.500V11"/><path d="M8,12L19,1M12,0.900h7.100v7.100"/></g>
<g transform="translate(1231.3,974.2)" fill="none" stroke="#2a3144" stroke-width="1.8" stroke-linejoin="round"><path d="M9,3H3.5a2.500,2.500 0 0 0 -2.500,2.500V16.500a2.500,2.500 0 0 0 2.500,2.500H14.500a2.500,2.500 0 0 0 2.500,-2.500V11"/><path d="M8,12L19,1M12,0.900h7.100v7.100"/></g>
<g transform="translate(1563.0,974.2)" fill="none" stroke="#2a3144" stroke-width="1.8" stroke-linejoin="round"><path d="M9,3H3.5a2.500,2.500 0 0 0 -2.500,2.500V16.500a2.500,2.500 0 0 0 2.500,2.500H14.500a2.500,2.500 0 0 0 2.500,-2.500V11"/><path d="M8,12L19,1M12,0.900h7.100v7.100"/></g>
</g>
<rect x="95.0" y="1119.0" width="1391.0" height="685.0" fill="none" stroke="#dcdcdc" stroke-width="2"/>
<rect x="94.0" y="1118.00" width="58.3" height="27.74" fill="#cfe1f2"/>
<rect x="152.0" y="1118.00" width="58.3" height="27.74" fill="#cfe1f2"/>
<rect x="210.0" y="1118.00" width="58.3" height="27.74" fill="#c6dcef"/>
<rect x="268.0" y="1118.00" width="58.3" height="27.74" fill="#cadef0"/>
<rect x="326.0" y="1118.00" width="58.3" height="27.74" fill="#cde0f1"/>
<rect x="384.0" y="1118.00" width="58.3" height="27.74" fill="#abcfe6"/>
<rect x="442.0" y="1118.00" width="58.3" height="27.74" fill="#a6cde4"/>
<rect x="500.0" y="1118.00" width="58.3" height="27.74" fill="#90c1de"/>
<rect x="558.0" y="1118.00" width="58.3" height="27.74" fill="#3383be"/>
<rect x="616.0" y="1118.00" width="58.3" height="27.74" fill="#2877b7"/>
<rect x="674.0" y="1118.00" width="58.3" height="27.74" fill="#1a67ac"/>
<rect x="732.0" y="1118.00" width="58.3" height="27.74" fill="#0a4a90"/>
<rect x="790.0" y="1118.00" width="58.3" height="27.74" fill="#10579f"/>
<rect x="848.0" y="1118.00" width="58.3" height="27.74" fill="#4a96c8"/>
<rect x="906.0" y="1118.00" width="58.3" height="27.74" fill="#4e99ca"/>
<rect x="964.0" y="1118.00" width="58.3" height="27.74" fill="#408ec4"/>
<rect x="1022.0" y="1118.00" width="58.3" height="27.74" fill="#5da4d0"/>
<rect x="1080.0" y="1118.00" width="58.3" height="27.74" fill="#7eb8da"/>
<rect x="1138.0" y="1118.00" width="58.3" height="27.74" fill="#afd1e7"/>
<rect x="1196.0" y="1118.00" width="58.3" height="27.74" fill="#c3dbee"/>
<rect x="1254.0" y="1118.00" width="58.3" height="27.74" fill="#c6dcef"/>
<rect x="1312.0" y="1118.00" width="58.3" height="27.74" fill="#cfe1f2"/>
<rect x="1370.0" y="1118.00" width="58.3" height="27.74" fill="#cfe1f2"/>
<rect x="94.0" y="1145.44" width="58.3" height="27.74" fill="#cadef0"/>
<rect x="210.0" y="1145.44" width="58.3" height="27.74" fill="#cfe1f2"/>
<rect x="268.0" y="1145.44" width="58.3" height="27.74" fill="#c0d9ed"/>
<rect x="326.0" y="1145.44" width="58.3" height="27.74" fill="#cde0f1"/>
<rect x="384.0" y="1145.44" width="58.3" height="27.74" fill="#c0d9ed"/>
<rect x="442.0" y="1145.44" width="58.3" height="27.74" fill="#b2d2e8"/>
<rect x="500.0" y="1145.44" width="58.3" height="27.74" fill="#73b1d7"/>
<rect x="558.0" y="1145.44" width="58.3" height="27.74" fill="#9bc7e1"/>
<rect x="616.0" y="1145.44" width="58.3" height="27.74" fill="#3383be"/>
<rect x="674.0" y="1145.44" width="58.3" height="27.74" fill="#2f7fbc"/>
<rect x="732.0" y="1145.44" width="58.3" height="27.74" fill="#539dcc"/>
<rect x="790.0" y="1145.44" width="58.3" height="27.74" fill="#4e99ca"/>
<rect x="848.0" y="1145.44" width="58.3" height="27.74" fill="#1a67ac"/>
<rect x="906.0" y="1145.44" width="58.3" height="27.74" fill="#539dcc"/>
<rect x="964.0" y="1145.44" width="58.3" height="27.74" fill="#6daed5"/>
<rect x="1022.0" y="1145.44" width="58.3" height="27.74" fill="#a6cde4"/>
<rect x="1080.0" y="1145.44" width="58.3" height="27.74" fill="#95c4e0"/>
<rect x="1138.0" y="1145.44" width="58.3" height="27.74" fill="#afd1e7"/>
<rect x="1196.0" y="1145.44" width="58.3" height="27.74" fill="#cadef0"/>
<rect x="1312.0" y="1145.44" width="58.3" height="27.74" fill="#cadef0"/>
<rect x="94.0" y="1172.88" width="58.3" height="27.74" fill="#cadef0"/>
<rect x="268.0" y="1172.88" width="58.3" height="27.74" fill="#cfe1f2"/>
<rect x="326.0" y="1172.88" width="58.3" height="27.74" fill="#c6dcef"/>
<rect x="384.0" y="1172.88" width="58.3" height="27.74" fill="#c6dcef"/>
<rect x="442.0" y="1172.88" width="58.3" height="27.74" fill="#c3dbee"/>
<rect x="500.0" y="1172.88" width="58.3" height="27.74" fill="#c0d9ed"/>
<rect x="558.0" y="1172.88" width="58.3" height="27.74" fill="#a0cae3"/>
<rect x="616.0" y="1172.88" width="58.3" height="27.74" fill="#8abedd"/>
<rect x="674.0" y="1172.88" width="58.3" height="27.74" fill="#c0d9ed"/>
<rect x="732.0" y="1172.88" width="58.3" height="27.74" fill="#95c4e0"/>
<rect x="790.0" y="1172.88" width="58.3" height="27.74" fill="#90c1de"/>
<rect x="848.0" y="1172.88" width="58.3" height="27.74" fill="#78b4d8"/>
<rect x="906.0" y="1172.88" width="58.3" height="27.74" fill="#abcfe6"/>
<rect x="964.0" y="1172.88" width="58.3" height="27.74" fill="#b6d5ea"/>
<rect x="1022.0" y="1172.88" width="58.3" height="27.74" fill="#b2d2e8"/>
<rect x="1080.0" y="1172.88" width="58.3" height="27.74" fill="#c6dcef"/>
<rect x="1138.0" y="1172.88" width="58.3" height="27.74" fill="#c6dcef"/>
<rect x="1196.0" y="1172.88" width="58.3" height="27.74" fill="#cadef0"/>
<rect x="1254.0" y="1172.88" width="58.3" height="27.74" fill="#cde0f1"/>
<rect x="326.0" y="1200.32" width="58.3" height="27.74" fill="#cfe1f2"/>
<rect x="442.0" y="1200.32" width="58.3" height="27.74" fill="#cadef0"/>
<rect x="500.0" y="1200.32" width="58.3" height="27.74" fill="#c0d9ed"/>
<rect x="558.0" y="1200.32" width="58.3" height="27.74" fill="#c6dcef"/>
<rect x="616.0" y="1200.32" width="58.3" height="27.74" fill="#c6dcef"/>
<rect x="674.0" y="1200.32" width="58.3" height="27.74" fill="#c6dcef"/>
<rect x="732.0" y="1200.32" width="58.3" height="27.74" fill="#bbd7eb"/>
<rect x="790.0" y="1200.32" width="58.3" height="27.74" fill="#b6d5ea"/>
<rect x="848.0" y="1200.32" width="58.3" height="27.74" fill="#b2d2e8"/>
<rect x="906.0" y="1200.32" width="58.3" height="27.74" fill="#c6dcef"/>
<rect x="964.0" y="1200.32" width="58.3" height="27.74" fill="#c6dcef"/>
<rect x="1022.0" y="1200.32" width="58.3" height="27.74" fill="#bbd7eb"/>
<rect x="1080.0" y="1200.32" width="58.3" height="27.74" fill="#c3dbee"/>
<rect x="1138.0" y="1200.32" width="58.3" height="27.74" fill="#cfe1f2"/>
<rect x="1196.0" y="1200.32" width="58.3" height="27.74" fill="#cadef0"/>
<rect x="1254.0" y="1200.32" width="58.3" height="27.74" fill="#cadef0"/>
<rect x="384.0" y="1227.76" width="58.3" height="27.74" fill="#cfe1f2"/>
<rect x="442.0" y="1227.76" width="58.3" height="27.74" fill="#c3dbee"/>
<rect x="500.0" y="1227.76" width="58.3" height="27.74" fill="#cadef0"/>
<rect x="558.0" y="1227.76" width="58.3" height="27.74" fill="#c6dcef"/>
<rect x="616.0" y="1227.76" width="58.3" height="27.74" fill="#cadef0"/>
<rect x="674.0" y="1227.76" width="58.3" height="27.74" fill="#bbd7eb"/>
<rect x="732.0" y="1227.76" width="58.3" height="27.74" fill="#c6dcef"/>
<rect x="790.0" y="1227.76" width="58.3" height="27.74" fill="#cadef0"/>
<rect x="848.0" y="1227.76" width="58.3" height="27.74" fill="#b2d2e8"/>
<rect x="906.0" y="1227.76" width="58.3" height="27.74" fill="#c6dcef"/>
<rect x="964.0" y="1227.76" width="58.3" height="27.74" fill="#c6dcef"/>
<rect x="1022.0" y="1227.76" width="58.3" height="27.74" fill="#c3dbee"/>
<rect x="1080.0" y="1227.76" width="58.3" height="27.74" fill="#c6dcef"/>
<rect x="1138.0" y="1227.76" width="58.3" height="27.74" fill="#cde0f1"/>
<rect x="1254.0" y="1227.76" width="58.3" height="27.74" fill="#cadef0"/>
<rect x="268.0" y="1255.20" width="58.3" height="27.74" fill="#cfe1f2"/>
<rect x="326.0" y="1255.20" width="58.3" height="27.74" fill="#cfe1f2"/>
<rect x="442.0" y="1255.20" width="58.3" height="27.74" fill="#cfe1f2"/>
<rect x="500.0" y="1255.20" width="58.3" height="27.74" fill="#c0d9ed"/>
<rect x="558.0" y="1255.20" width="58.3" height="27.74" fill="#c6dcef"/>
<rect x="616.0" y="1255.20" width="58.3" height="27.74" fill="#c3dbee"/>
<rect x="674.0" y="1255.20" width="58.3" height="27.74" fill="#c0d9ed"/>
<rect x="732.0" y="1255.20" width="58.3" height="27.74" fill="#cadef0"/>
<rect x="790.0" y="1255.20" width="58.3" height="27.74" fill="#c3dbee"/>
<rect x="848.0" y="1255.20" width="58.3" height="27.74" fill="#c3dbee"/>
<rect x="906.0" y="1255.20" width="58.3" height="27.74" fill="#cde0f1"/>
<rect x="964.0" y="1255.20" width="58.3" height="27.74" fill="#cde0f1"/>
<rect x="1022.0" y="1255.20" width="58.3" height="27.74" fill="#c8ddf0"/>
<rect x="1080.0" y="1255.20" width="58.3" height="27.74" fill="#c8ddf0"/>
<rect x="1138.0" y="1255.20" width="58.3" height="27.74" fill="#cde0f1"/>
<rect x="1196.0" y="1255.20" width="58.3" height="27.74" fill="#cadef0"/>
<rect x="210.0" y="1282.64" width="58.3" height="27.74" fill="#cfe1f2"/>
<rect x="384.0" y="1282.64" width="58.3" height="27.74" fill="#c6dcef"/>
<rect x="442.0" y="1282.64" width="58.3" height="27.74" fill="#c6dcef"/>
<rect x="500.0" y="1282.64" width="58.3" height="27.74" fill="#cadef0"/>
<rect x="558.0" y="1282.64" width="58.3" height="27.74" fill="#cadef0"/>
<rect x="616.0" y="1282.64" width="58.3" height="27.74" fill="#c6dcef"/>
<rect x="674.0" y="1282.64" width="58.3" height="27.74" fill="#c0d9ed"/>
<rect x="732.0" y="1282.64" width="58.3" height="27.74" fill="#c0d9ed"/>
<rect x="790.0" y="1282.64" width="58.3" height="27.74" fill="#c3dbee"/>
<rect x="848.0" y="1282.64" width="58.3" height="27.74" fill="#c6dcef"/>
<rect x="906.0" y="1282.64" width="58.3" height="27.74" fill="#c3dbee"/>
<rect x="964.0" y="1282.64" width="58.3" height="27.74" fill="#c6dcef"/>
<rect x="1022.0" y="1282.64" width="58.3" height="27.74" fill="#cfe1f2"/>
<rect x="1196.0" y="1282.64" width="58.3" height="27.74" fill="#cde0f1"/>
<rect x="1312.0" y="1282.64" width="58.3" height="27.74" fill="#cde0f1"/>
<rect x="268.0" y="1310.08" width="58.3" height="27.74" fill="#cfe1f2"/>
<rect x="442.0" y="1310.08" width="58.3" height="27.74" fill="#c3dbee"/>
<rect x="500.0" y="1310.08" width="58.3" height="27.74" fill="#cfe1f2"/>
<rect x="558.0" y="1310.08" width="58.3" height="27.74" fill="#c6dcef"/>
<rect x="616.0" y="1310.08" width="58.3" height="27.74" fill="#c6dcef"/>
<rect x="674.0" y="1310.08" width="58.3" height="27.74" fill="#c6dcef"/>
<rect x="732.0" y="1310.08" width="58.3" height="27.74" fill="#c6dcef"/>
<rect x="790.0" y="1310.08" width="58.3" height="27.74" fill="#abcfe6"/>
<rect x="848.0" y="1310.08" width="58.3" height="27.74" fill="#cde0f1"/>
<rect x="906.0" y="1310.08" width="58.3" height="27.74" fill="#c3dbee"/>
<rect x="964.0" y="1310.08" width="58.3" height="27.74" fill="#cfe1f2"/>
<rect x="1022.0" y="1310.08" width="58.3" height="27.74" fill="#cadef0"/>
<rect x="1080.0" y="1310.08" width="58.3" height="27.74" fill="#cadef0"/>
<rect x="1254.0" y="1310.08" width="58.3" height="27.74" fill="#c6dcef"/>
<rect x="268.0" y="1337.52" width="58.3" height="27.74" fill="#cadef0"/>
<rect x="442.0" y="1337.52" width="58.3" height="27.74" fill="#cfe1f2"/>
<rect x="500.0" y="1337.52" width="58.3" height="27.74" fill="#cadef0"/>
<rect x="558.0" y="1337.52" width="58.3" height="27.74" fill="#c6dcef"/>
<rect x="616.0" y="1337.52" width="58.3" height="27.74" fill="#cfe1f2"/>
<rect x="674.0" y="1337.52" width="58.3" height="27.74" fill="#b6d5ea"/>
<rect x="732.0" y="1337.52" width="58.3" height="27.74" fill="#c6dcef"/>
<rect x="790.0" y="1337.52" width="58.3" height="27.74" fill="#cadef0"/>
<rect x="848.0" y="1337.52" width="58.3" height="27.74" fill="#c6dcef"/>
<rect x="906.0" y="1337.52" width="58.3" height="27.74" fill="#c3dbee"/>
<rect x="964.0" y="1337.52" width="58.3" height="27.74" fill="#cadef0"/>
<rect x="1022.0" y="1337.52" width="58.3" height="27.74" fill="#c3dbee"/>
<rect x="1080.0" y="1337.52" width="58.3" height="27.74" fill="#cadef0"/>
<rect x="384.0" y="1364.96" width="58.3" height="27.74" fill="#cfe1f2"/>
<rect x="442.0" y="1364.96" width="58.3" height="27.74" fill="#cfe1f2"/>
<rect x="500.0" y="1364.96" width="58.3" height="27.74" fill="#cadef0"/>
<rect x="558.0" y="1364.96" width="58.3" height="27.74" fill="#c6dcef"/>
<rect x="616.0" y="1364.96" width="58.3" height="27.74" fill="#c3dbee"/>
<rect x="674.0" y="1364.96" width="58.3" height="27.74" fill="#b2d2e8"/>
<rect x="732.0" y="1364.96" width="58.3" height="27.74" fill="#c6dcef"/>
<rect x="790.0" y="1364.96" width="58.3" height="27.74" fill="#c8ddf0"/>
<rect x="848.0" y="1364.96" width="58.3" height="27.74" fill="#c8ddf0"/>
<rect x="906.0" y="1364.96" width="58.3" height="27.74" fill="#cfe1f2"/>
<rect x="1022.0" y="1364.96" width="58.3" height="27.74" fill="#c8ddf0"/>
<rect x="1080.0" y="1364.96" width="58.3" height="27.74" fill="#c8ddf0"/>
<rect x="94.0" y="1392.40" width="58.3" height="27.74" fill="#cfe1f2"/>
<rect x="326.0" y="1392.40" width="58.3" height="27.74" fill="#cfe1f2"/>
<rect x="384.0" y="1392.40" width="58.3" height="27.74" fill="#cfe1f2"/>
<rect x="442.0" y="1392.40" width="58.3" height="27.74" fill="#cfe1f2"/>
<rect x="500.0" y="1392.40" width="58.3" height="27.74" fill="#cfe1f2"/>
<rect x="558.0" y="1392.40" width="58.3" height="27.74" fill="#c6dcef"/>
<rect x="616.0" y="1392.40" width="58.3" height="27.74" fill="#cfe1f2"/>
<rect x="674.0" y="1392.40" width="58.3" height="27.74" fill="#c3dbee"/>
<rect x="732.0" y="1392.40" width="58.3" height="27.74" fill="#c6dcef"/>
<rect x="790.0" y="1392.40" width="58.3" height="27.74" fill="#cadef0"/>
<rect x="848.0" y="1392.40" width="58.3" height="27.74" fill="#cadef0"/>
<rect x="906.0" y="1392.40" width="58.3" height="27.74" fill="#cfe1f2"/>
<rect x="964.0" y="1392.40" width="58.3" height="27.74" fill="#cfe1f2"/>
<rect x="1022.0" y="1392.40" width="58.3" height="27.74" fill="#cadef0"/>
<rect x="1080.0" y="1392.40" width="58.3" height="27.74" fill="#cde0f1"/>
<rect x="1138.0" y="1392.40" width="58.3" height="27.74" fill="#cfe1f2"/>
<rect x="1196.0" y="1392.40" width="58.3" height="27.74" fill="#cfe1f2"/>
<rect x="268.0" y="1419.84" width="58.3" height="27.74" fill="#cfe1f2"/>
<rect x="384.0" y="1419.84" width="58.3" height="27.74" fill="#cfe1f2"/>
<rect x="500.0" y="1419.84" width="58.3" height="27.74" fill="#c3dbee"/>
<rect x="558.0" y="1419.84" width="58.3" height="27.74" fill="#cfe1f2"/>
<rect x="616.0" y="1419.84" width="58.3" height="27.74" fill="#cfe1f2"/>
<rect x="674.0" y="1419.84" width="58.3" height="27.74" fill="#cfe1f2"/>
<rect x="732.0" y="1419.84" width="58.3" height="27.74" fill="#cfe1f2"/>
<rect x="790.0" y="1419.84" width="58.3" height="27.74" fill="#c3dbee"/>
<rect x="848.0" y="1419.84" width="58.3" height="27.74" fill="#cadef0"/>
<rect x="906.0" y="1419.84" width="58.3" height="27.74" fill="#c3dbee"/>
<rect x="964.0" y="1419.84" width="58.3" height="27.74" fill="#cde0f1"/>
<rect x="1080.0" y="1419.84" width="58.3" height="27.74" fill="#cadef0"/>
<rect x="1428.0" y="1419.84" width="58.3" height="27.74" fill="#cfe1f2"/>
<rect x="442.0" y="1447.28" width="58.3" height="27.74" fill="#cadef0"/>
<rect x="558.0" y="1447.28" width="58.3" height="27.74" fill="#c6dcef"/>
<rect x="616.0" y="1447.28" width="58.3" height="27.74" fill="#c6dcef"/>
<rect x="674.0" y="1447.28" width="58.3" height="27.74" fill="#cfe1f2"/>
<rect x="732.0" y="1447.28" width="58.3" height="27.74" fill="#cfe1f2"/>
<rect x="790.0" y="1447.28" width="58.3" height="27.74" fill="#c6dcef"/>
<rect x="848.0" y="1447.28" width="58.3" height="27.74" fill="#c6dcef"/>
<rect x="964.0" y="1447.28" width="58.3" height="27.74" fill="#cde0f1"/>
<rect x="1022.0" y="1447.28" width="58.3" height="27.74" fill="#cde0f1"/>
<rect x="1080.0" y="1447.28" width="58.3" height="27.74" fill="#cadef0"/>
<rect x="1138.0" y="1447.28" width="58.3" height="27.74" fill="#cde0f1"/>
<rect x="1254.0" y="1447.28" width="58.3" height="27.74" fill="#cfe1f2"/>
<rect x="442.0" y="1474.72" width="58.3" height="27.74" fill="#cadef0"/>
<rect x="500.0" y="1474.72" width="58.3" height="27.74" fill="#cadef0"/>
<rect x="558.0" y="1474.72" width="58.3" height="27.74" fill="#c6dcef"/>
<rect x="616.0" y="1474.72" width="58.3" height="27.74" fill="#c6dcef"/>
<rect x="674.0" y="1474.72" width="58.3" height="27.74" fill="#cadef0"/>
<rect x="732.0" y="1474.72" width="58.3" height="27.74" fill="#c6dcef"/>
<rect x="790.0" y="1474.72" width="58.3" height="27.74" fill="#c6dcef"/>
<rect x="848.0" y="1474.72" width="58.3" height="27.74" fill="#c8ddf0"/>
<rect x="964.0" y="1474.72" width="58.3" height="27.74" fill="#cadef0"/>
<rect x="1022.0" y="1474.72" width="58.3" height="27.74" fill="#c6dcef"/>
<rect x="1138.0" y="1474.72" width="58.3" height="27.74" fill="#cadef0"/>
<rect x="326.0" y="1502.16" width="58.3" height="27.74" fill="#cfe1f2"/>
<rect x="384.0" y="1502.16" width="58.3" height="27.74" fill="#cfe1f2"/>
<rect x="500.0" y="1502.16" width="58.3" height="27.74" fill="#cadef0"/>
<rect x="558.0" y="1502.16" width="58.3" height="27.74" fill="#c6dcef"/>
<rect x="616.0" y="1502.16" width="58.3" height="27.74" fill="#c3dbee"/>
<rect x="674.0" y="1502.16" width="58.3" height="27.74" fill="#cadef0"/>
<rect x="732.0" y="1502.16" width="58.3" height="27.74" fill="#cadef0"/>
<rect x="790.0" y="1502.16" width="58.3" height="27.74" fill="#cde0f1"/>
<rect x="848.0" y="1502.16" width="58.3" height="27.74" fill="#cde0f1"/>
<rect x="906.0" y="1502.16" width="58.3" height="27.74" fill="#cadef0"/>
<rect x="964.0" y="1502.16" width="58.3" height="27.74" fill="#cde0f1"/>
<rect x="1022.0" y="1502.16" width="58.3" height="27.74" fill="#cde0f1"/>
<rect x="1080.0" y="1502.16" width="58.3" height="27.74" fill="#cde0f1"/>
<rect x="1138.0" y="1502.16" width="58.3" height="27.74" fill="#cde0f1"/>
<rect x="210.0" y="1529.60" width="58.3" height="27.74" fill="#cfe1f2"/>
<rect x="268.0" y="1529.60" width="58.3" height="27.74" fill="#cadef0"/>
<rect x="442.0" y="1529.60" width="58.3" height="27.74" fill="#cfe1f2"/>
<rect x="558.0" y="1529.60" width="58.3" height="27.74" fill="#cadef0"/>
<rect x="616.0" y="1529.60" width="58.3" height="27.74" fill="#cadef0"/>
<rect x="674.0" y="1529.60" width="58.3" height="27.74" fill="#c6dcef"/>
<rect x="732.0" y="1529.60" width="58.3" height="27.74" fill="#c6dcef"/>
<rect x="790.0" y="1529.60" width="58.3" height="27.74" fill="#c6dcef"/>
<rect x="848.0" y="1529.60" width="58.3" height="27.74" fill="#c6dcef"/>
<rect x="964.0" y="1529.60" width="58.3" height="27.74" fill="#c6dcef"/>
<rect x="1022.0" y="1529.60" width="58.3" height="27.74" fill="#cadef0"/>
<rect x="500.0" y="1557.04" width="58.3" height="27.74" fill="#cadef0"/>
<rect x="558.0" y="1557.04" width="58.3" height="27.74" fill="#cadef0"/>
<rect x="616.0" y="1557.04" width="58.3" height="27.74" fill="#c3dbee"/>
<rect x="674.0" y="1557.04" width="58.3" height="27.74" fill="#cadef0"/>
<rect x="732.0" y="1557.04" width="58.3" height="27.74" fill="#cadef0"/>
<rect x="790.0" y="1557.04" width="58.3" height="27.74" fill="#c6dcef"/>
<rect x="848.0" y="1557.04" width="58.3" height="27.74" fill="#cde0f1"/>
<rect x="906.0" y="1557.04" width="58.3" height="27.74" fill="#c3dbee"/>
<rect x="964.0" y="1557.04" width="58.3" height="27.74" fill="#c6dcef"/>
<rect x="1080.0" y="1557.04" width="58.3" height="27.74" fill="#cde0f1"/>
<rect x="326.0" y="1584.48" width="58.3" height="27.74" fill="#cfe1f2"/>
<rect x="384.0" y="1584.48" width="58.3" height="27.74" fill="#cfe1f2"/>
<rect x="500.0" y="1584.48" width="58.3" height="27.74" fill="#cadef0"/>
<rect x="558.0" y="1584.48" width="58.3" height="27.74" fill="#c6dcef"/>
<rect x="616.0" y="1584.48" width="58.3" height="27.74" fill="#c6dcef"/>
<rect x="674.0" y="1584.48" width="58.3" height="27.74" fill="#c3dbee"/>
<rect x="732.0" y="1584.48" width="58.3" height="27.74" fill="#cadef0"/>
<rect x="790.0" y="1584.48" width="58.3" height="27.74" fill="#cadef0"/>
<rect x="848.0" y="1584.48" width="58.3" height="27.74" fill="#cadef0"/>
<rect x="906.0" y="1584.48" width="58.3" height="27.74" fill="#c6dcef"/>
<rect x="964.0" y="1584.48" width="58.3" height="27.74" fill="#cadef0"/>
<rect x="1022.0" y="1584.48" width="58.3" height="27.74" fill="#cadef0"/>
<rect x="1138.0" y="1584.48" width="58.3" height="27.74" fill="#cfe1f2"/>
<rect x="384.0" y="1611.92" width="58.3" height="27.74" fill="#cfe1f2"/>
<rect x="442.0" y="1611.92" width="58.3" height="27.74" fill="#cfe1f2"/>
<rect x="500.0" y="1611.92" width="58.3" height="27.74" fill="#cfe1f2"/>
<rect x="558.0" y="1611.92" width="58.3" height="27.74" fill="#cfe1f2"/>
<rect x="616.0" y="1611.92" width="58.3" height="27.74" fill="#cfe1f2"/>
<rect x="674.0" y="1611.92" width="58.3" height="27.74" fill="#cfe1f2"/>
<rect x="732.0" y="1611.92" width="58.3" height="27.74" fill="#c3dbee"/>
<rect x="848.0" y="1611.92" width="58.3" height="27.74" fill="#c6dcef"/>
<rect x="906.0" y="1611.92" width="58.3" height="27.74" fill="#cadef0"/>
<rect x="964.0" y="1611.92" width="58.3" height="27.74" fill="#cde0f1"/>
<rect x="1022.0" y="1611.92" width="58.3" height="27.74" fill="#cadef0"/>
<rect x="210.0" y="1639.36" width="58.3" height="27.74" fill="#cfe1f2"/>
<rect x="268.0" y="1639.36" width="58.3" height="27.74" fill="#cfe1f2"/>
<rect x="442.0" y="1639.36" width="58.3" height="27.74" fill="#cfe1f2"/>
<rect x="616.0" y="1639.36" width="58.3" height="27.74" fill="#c6dcef"/>
<rect x="674.0" y="1639.36" width="58.3" height="27.74" fill="#c6dcef"/>
<rect x="732.0" y="1639.36" width="58.3" height="27.74" fill="#c6dcef"/>
<rect x="790.0" y="1639.36" width="58.3" height="27.74" fill="#c6dcef"/>
<rect x="848.0" y="1639.36" width="58.3" height="27.74" fill="#cadef0"/>
<rect x="906.0" y="1639.36" width="58.3" height="27.74" fill="#cadef0"/>
<rect x="964.0" y="1639.36" width="58.3" height="27.74" fill="#cadef0"/>
<rect x="1080.0" y="1639.36" width="58.3" height="27.74" fill="#cadef0"/>
<rect x="384.0" y="1666.80" width="58.3" height="27.74" fill="#cadef0"/>
<rect x="500.0" y="1666.80" width="58.3" height="27.74" fill="#c6dcef"/>
<rect x="616.0" y="1666.80" width="58.3" height="27.74" fill="#c6dcef"/>
<rect x="674.0" y="1666.80" width="58.3" height="27.74" fill="#c6dcef"/>
<rect x="732.0" y="1666.80" width="58.3" height="27.74" fill="#cfe1f2"/>
<rect x="848.0" y="1666.80" width="58.3" height="27.74" fill="#c6dcef"/>
<rect x="906.0" y="1666.80" width="58.3" height="27.74" fill="#cadef0"/>
<rect x="964.0" y="1666.80" width="58.3" height="27.74" fill="#cadef0"/>
<rect x="1022.0" y="1666.80" width="58.3" height="27.74" fill="#cde0f1"/>
<rect x="1196.0" y="1666.80" width="58.3" height="27.74" fill="#cde0f1"/>
<rect x="210.0" y="1694.24" width="58.3" height="27.74" fill="#cfe1f2"/>
<rect x="268.0" y="1694.24" width="58.3" height="27.74" fill="#cfe1f2"/>
<rect x="442.0" y="1694.24" width="58.3" height="27.74" fill="#cadef0"/>
<rect x="558.0" y="1694.24" width="58.3" height="27.74" fill="#cadef0"/>
<rect x="616.0" y="1694.24" width="58.3" height="27.74" fill="#c3dbee"/>
<rect x="674.0" y="1694.24" width="58.3" height="27.74" fill="#c6dcef"/>
<rect x="790.0" y="1694.24" width="58.3" height="27.74" fill="#cadef0"/>
<rect x="848.0" y="1694.24" width="58.3" height="27.74" fill="#cde0f1"/>
<rect x="906.0" y="1694.24" width="58.3" height="27.74" fill="#cadef0"/>
<rect x="964.0" y="1694.24" width="58.3" height="27.74" fill="#cadef0"/>
<rect x="1196.0" y="1694.24" width="58.3" height="27.74" fill="#cfe1f2"/>
<rect x="1254.0" y="1694.24" width="58.3" height="27.74" fill="#cfe1f2"/>
<rect x="1312.0" y="1694.24" width="58.3" height="27.74" fill="#cfe1f2"/>
<rect x="616.0" y="1721.68" width="58.3" height="27.74" fill="#c6dcef"/>
<rect x="674.0" y="1721.68" width="58.3" height="27.74" fill="#c3dbee"/>
<rect x="732.0" y="1721.68" width="58.3" height="27.74" fill="#c0d9ed"/>
<rect x="790.0" y="1721.68" width="58.3" height="27.74" fill="#c6dcef"/>
<rect x="848.0" y="1721.68" width="58.3" height="27.74" fill="#cde0f1"/>
<rect x="906.0" y="1721.68" width="58.3" height="27.74" fill="#cde0f1"/>
<rect x="1080.0" y="1721.68" width="58.3" height="27.74" fill="#cfe1f2"/>
<rect x="268.0" y="1749.12" width="58.3" height="27.74" fill="#cfe1f2"/>
<rect x="442.0" y="1749.12" width="58.3" height="27.74" fill="#cadef0"/>
<rect x="500.0" y="1749.12" width="58.3" height="27.74" fill="#cfe1f2"/>
<rect x="558.0" y="1749.12" width="58.3" height="27.74" fill="#cadef0"/>
<rect x="616.0" y="1749.12" width="58.3" height="27.74" fill="#cadef0"/>
<rect x="674.0" y="1749.12" width="58.3" height="27.74" fill="#cfe1f2"/>
<rect x="732.0" y="1749.12" width="58.3" height="27.74" fill="#c3dbee"/>
<rect x="848.0" y="1749.12" width="58.3" height="27.74" fill="#cfe1f2"/>
<rect x="964.0" y="1749.12" width="58.3" height="27.74" fill="#cfe1f2"/>
<rect x="1428.0" y="1749.12" width="58.3" height="27.74" fill="#cfe1f2"/>
<rect x="210.0" y="1776.56" width="58.3" height="27.74" fill="#cadef0"/>
<rect x="384.0" y="1776.56" width="58.3" height="27.74" fill="#cfe1f2"/>
<rect x="500.0" y="1776.56" width="58.3" height="27.74" fill="#cfe1f2"/>
<rect x="616.0" y="1776.56" width="58.3" height="27.74" fill="#cadef0"/>
<rect x="674.0" y="1776.56" width="58.3" height="27.74" fill="#c6dcef"/>
<rect x="732.0" y="1776.56" width="58.3" height="27.74" fill="#c6dcef"/>
<rect x="790.0" y="1776.56" width="58.3" height="27.74" fill="#cde0f1"/>
<rect x="848.0" y="1776.56" width="58.3" height="27.74" fill="#c6dcef"/>
<rect x="906.0" y="1776.56" width="58.3" height="27.74" fill="#cde0f1"/>
<rect x="1022.0" y="1776.56" width="58.3" height="27.74" fill="#cadef0"/>
<line x1="95.0" y1="1118.0" x2="95.0" y2="1804.0" stroke="#edf0f5" stroke-width="2"/>
<line x1="94.0" y1="1804.0" x2="1486.0" y2="1804.0" stroke="#e6eaf2" stroke-width="2"/>
<g font-family='"Liberation Sans", Arial, sans-serif' font-size="20" fill="#5a6579">
<line x1="84.0" y1="1131.7" x2="94.0" y2="1131.7" stroke="#e6eaf2" stroke-width="2"/>
<text x="81.0" y="1138.2" text-anchor="end">CN</text>
<line x1="84.0" y1="1159.2" x2="94.0" y2="1159.2" stroke="#e6eaf2" stroke-width="2"/>
<text x="81.0" y="1165.7" text-anchor="end">IN</text>
<line x1="84.0" y1="1186.6" x2="94.0" y2="1186.6" stroke="#e6eaf2" stroke-width="2"/>
<text x="81.0" y="1193.1" text-anchor="end">US</text>
<line x1="84.0" y1="1214.0" x2="94.0" y2="1214.0" stroke="#e6eaf2" stroke-width="2"/>
<text x="81.0" y="1220.5" text-anchor="end">ID</text>
<line x1="84.0" y1="1241.5" x2="94.0" y2="1241.5" stroke="#e6eaf2" stroke-width="2"/>
<text x="81.0" y="1248.0" text-anchor="end">BR</text>
<line x1="84.0" y1="1268.9" x2="94.0" y2="1268.9" stroke="#e6eaf2" stroke-width="2"/>
<text x="81.0" y="1275.4" text-anchor="end">NG</text>
<line x1="84.0" y1="1296.4" x2="94.0" y2="1296.4" stroke="#e6eaf2" stroke-width="2"/>
<text x="81.0" y="1302.9" text-anchor="end">BD</text>
<line x1="84.0" y1="1323.8" x2="94.0" y2="1323.8" stroke="#e6eaf2" stroke-width="2"/>
<text x="81.0" y="1330.3" text-anchor="end">PK</text>
<line x1="84.0" y1="1351.2" x2="94.0" y2="1351.2" stroke="#e6eaf2" stroke-width="2"/>
<text x="81.0" y="1357.7" text-anchor="end">RU</text>
<line x1="84.0" y1="1378.7" x2="94.0" y2="1378.7" stroke="#e6eaf2" stroke-width="2"/>
<text x="81.0" y="1385.2" text-anchor="end">MX</text>
<line x1="84.0" y1="1406.1" x2="94.0" y2="1406.1" stroke="#e6eaf2" stroke-width="2"/>
<text x="81.0" y="1412.6" text-anchor="end">JP</text>
<line x1="84.0" y1="1433.6" x2="94.0" y2="1433.6" stroke="#e6eaf2" stroke-width="2"/>
<text x="81.0" y="1440.1" text-anchor="end">DE</text>
<line x1="84.0" y1="1461.0" x2="94.0" y2="1461.0" stroke="#e6eaf2" stroke-width="2"/>
<text x="81.0" y="1467.5" text-anchor="end">IR</text>
<line x1="84.0" y1="1488.4" x2="94.0" y2="1488.4" stroke="#e6eaf2" stroke-width="2"/>
<text x="81.0" y="1494.9" text-anchor="end">MM</text>
<line x1="84.0" y1="1515.9" x2="94.0" y2="1515.9" stroke="#e6eaf2" stroke-width="2"/>
<text x="81.0" y="1522.4" text-anchor="end">VN</text>
<line x1="84.0" y1="1543.3" x2="94.0" y2="1543.3" stroke="#e6eaf2" stroke-width="2"/>
<text x="81.0" y="1549.8" text-anchor="end">FR</text>
<line x1="84.0" y1="1570.8" x2="94.0" y2="1570.8" stroke="#e6eaf2" stroke-width="2"/>
<text x="81.0" y="1577.3" text-anchor="end">PH</text>
<line x1="84.0" y1="1598.2" x2="94.0" y2="1598.2" stroke="#e6eaf2" stroke-width="2"/>
<text x="81.0" y="1604.7" text-anchor="end">EG</text>
<line x1="84.0" y1="1625.6" x2="94.0" y2="1625.6" stroke="#e6eaf2" stroke-width="2"/>
<text x="81.0" y="1632.1" text-anchor="end">CO</text>
<line x1="84.0" y1="1653.1" x2="94.0" y2="1653.1" stroke="#e6eaf2" stroke-width="2"/>
<text x="81.0" y="1659.6" text-anchor="end">ET</text>
<line x1="84.0" y1="1680.5" x2="94.0" y2="1680.5" stroke="#e6eaf2" stroke-width="2"/>
<text x="81.0" y="1687.0" text-anchor="end">IT</text>
<line x1="84.0" y1="1708.0" x2="94.0" y2="1708.0" stroke="#e6eaf2" stroke-width="2"/>
<text x="81.0" y="1714.5" text-anchor="end">UA</text>
<line x1="84.0" y1="1735.4" x2="94.0" y2="1735.4" stroke="#e6eaf2" stroke-width="2"/>
<text x="81.0" y="1741.9" text-anchor="end">TH</text>
<line x1="84.0" y1="1762.8" x2="94.0" y2="1762.8" stroke="#e6eaf2" stroke-width="2"/>
<text x="81.0" y="1769.3" text-anchor="end">AR</text>
<line x1="84.0" y1="1790.3" x2="94.0" y2="1790.3" stroke="#e6eaf2" stroke-width="2"/>
<text x="81.0" y="1796.8" text-anchor="end">TR</text>
<line x1="123.0" y1="1804.0" x2="123.0" y2="1814.0" stroke="#e6eaf2" stroke-width="2"/>
<text x="123.0" y="1835.0" text-anchor="middle">0</text>
<line x1="181.0" y1="1804.0" x2="181.0" y2="1814.0" stroke="#e6eaf2" stroke-width="2"/>
<text x="181.0" y="1835.0" text-anchor="middle">1</text>
<line x1="239.0" y1="1804.0" x2="239.0" y2="1814.0" stroke="#e6eaf2" stroke-width="2"/>
<text x="239.0" y="1835.0" text-anchor="middle">2</text>
<line x1="297.0" y1="1804.0" x2="297.0" y2="1814.0" stroke="#e6eaf2" stroke-width="2"/>
<text x="297.0" y="1835.0" text-anchor="middle">3</text>
<line x1="355.0" y1="1804.0" x2="355.0" y2="1814.0" stroke="#e6eaf2" stroke-width="2"/>
<text x="355.0" y="1835.0" text-anchor="middle">4</text>
<line x1="413.0" y1="1804.0" x2="413.0" y2="1814.0" stroke="#e6eaf2" stroke-width="2"/>
<text x="413.0" y="1835.0" text-anchor="middle">5</text>
<line x1="471.0" y1="1804.0" x2="471.0" y2="1814.0" stroke="#e6eaf2" stroke-width="2"/>
<text x="471.0" y="1835.0" text-anchor="middle">6</text>
<line x1="529.0" y1="1804.0" x2="529.0" y2="1814.0" stroke="#e6eaf2" stroke-width="2"/>
<text x="529.0" y="1835.0" text-anchor="middle">7</text>
<line x1="587.0" y1="1804.0" x2="587.0" y2="1814.0" stroke="#e6eaf2" stroke-width="2"/>
<text x="587.0" y="1835.0" text-anchor="middle">8</text>
<line x1="645.0" y1="1804.0" x2="645.0" y2="1814.0" stroke="#e6eaf2" stroke-width="2"/>
<text x="645.0" y="1835.0" text-anchor="middle">9</text>
<line x1="703.0" y1="1804.0" x2="703.0" y2="1814.0" stroke="#e6eaf2" stroke-width="2"/>
<text x="703.0" y="1835.0" text-anchor="middle">10</text>
<line x1="761.0" y1="1804.0" x2="761.0" y2="1814.0" stroke="#e6eaf2" stroke-width="2"/>
<text x="761.0" y="1835.0" text-anchor="middle">11</text>
<line x1="819.0" y1="1804.0" x2="819.0" y2="1814.0" stroke="#e6eaf2" stroke-width="2"/>
<text x="819.0" y="1835.0" text-anchor="middle">12</text>
<line x1="877.0" y1="1804.0" x2="877.0" y2="1814.0" stroke="#e6eaf2" stroke-width="2"/>
<text x="877.0" y="1835.0" text-anchor="middle">13</text>
<line x1="935.0" y1="1804.0" x2="935.0" y2="1814.0" stroke="#e6eaf2" stroke-width="2"/>
<text x="935.0" y="1835.0" text-anchor="middle">14</text>
<line x1="993.0" y1="1804.0" x2="993.0" y2="1814.0" stroke="#e6eaf2" stroke-width="2"/>
<text x="993.0" y="1835.0" text-anchor="middle">15</text>
<line x1="1051.0" y1="1804.0" x2="1051.0" y2="1814.0" stroke="#e6eaf2" stroke-width="2"/>
<text x="1051.0" y="1835.0" text-anchor="middle">16</text>
<line x1="1109.0" y1="1804.0" x2="1109.0" y2="1814.0" stroke="#e6eaf2" stroke-width="2"/>
<text x="1109.0" y="1835.0" text-anchor="middle">17</text>
<line x1="1167.0" y1="1804.0" x2="1167.0" y2="1814.0" stroke="#e6eaf2" stroke-width="2"/>
<text x="1167.0" y="1835.0" text-anchor="middle">18</text>
<line x1="1225.0" y1="1804.0" x2="1225.0" y2="1814.0" stroke="#e6eaf2" stroke-width="2"/>
<text x="1225.0" y="1835.0" text-anchor="middle">19</text>
<line x1="1283.0" y1="1804.0" x2="1283.0" y2="1814.0" stroke="#e6eaf2" stroke-width="2"/>
<text x="1283.0" y="1835.0" text-anchor="middle">20</text>
<line x1="1341.0" y1="1804.0" x2="1341.0" y2="1814.0" stroke="#e6eaf2" stroke-width="2"/>
<text x="1341.0" y="1835.0" text-anchor="middle">21</text>
<line x1="1399.0" y1="1804.0" x2="1399.0" y2="1814.0" stroke="#e6eaf2" stroke-width="2"/>
<text x="1399.0" y="1835.0" text-anchor="middle">22</text>
<line x1="1457.0" y1="1804.0" x2="1457.0" y2="1814.0" stroke="#e6eaf2" stroke-width="2"/>
<text x="1457.0" y="1835.0" text-anchor="middle">23</text>
<defs><linearGradient id="lg" x1="0" y1="1" x2="0" y2="0">
<stop offset="0.00" stop-color="#cfe1f2"/>
<stop offset="0.10" stop-color="#bed8ec"/>
<stop offset="0.20" stop-color="#a8cee5"/>
<stop offset="0.30" stop-color="#8fc1de"/>
<stop offset="0.40" stop-color="#74b2d7"/>
<stop offset="0.50" stop-color="#5ba3cf"/>
<stop offset="0.60" stop-color="#4592c6"/>
<stop offset="0.70" stop-color="#3181bd"/>
<stop offset="0.80" stop-color="#206fb2"/>
<stop offset="0.90" stop-color="#125ca4"/>
<stop offset="1.00" stop-color="#0a4a90"/>
</linearGradient></defs>
<rect x="1522" y="1118.3" width="32" height="399.2" fill="url(#lg)"/>
<text x="1558" y="1455.0">10</text>
<text x="1558" y="1378.1">20</text>
<text x="1558" y="1301.2">30</text>
<text x="1558" y="1224.3">40</text>
<text x="1558" y="1147.4">50</text>
</g>
<clipPath id="skclip"><rect x="1711.0" y="112.5" width="1489.0" height="1702.5"/></clipPath>
<g clip-path="url(#skclip)" fill="none" stroke-opacity="0.3">
<g stroke="#54B399">
<path d="M1839.5,113.0C2454.9,113.0 2454.9,113.0 3070.4,113.0" stroke-width="1.06"/>
<path d="M1839.5,114.0C2454.9,114.0 2454.9,116.0 3070.4,116.0" stroke-width="0.82"/>
<path d="M1839.5,114.7C2454.9,114.7 2454.9,121.1 3070.4,121.1" stroke-width="0.64"/>
<path d="M1839.5,115.2C2454.9,115.2 2454.9,122.0 3070.4,122.0" stroke-width="0.30"/>
<path d="M1839.5,115.6C2454.9,115.6 2454.9,123.2 3070.4,123.2" stroke-width="0.63"/>
<path d="M1839.5,117.6C2454.9,117.6 2454.9,128.6 3070.4,128.6" stroke-width="3.25"/>
<path d="M1839.5,119.7C2454.9,119.7 2454.9,139.9 3070.4,139.9" stroke-width="0.99"/>
<path d="M1839.5,120.9C2454.9,120.9 2454.9,142.2 3070.4,142.2" stroke-width="1.35"/>
<path d="M1839.5,121.9C2454.9,121.9 2454.9,147.0 3070.4,147.0" stroke-width="0.69"/>
<path d="M1839.5,126.3C2454.9,126.3 2454.9,153.9 3070.4,153.9" stroke-width="8.23"/>
<path d="M1839.5,131.0C2454.9,131.0 2454.9,194.7 3070.4,194.7" stroke-width="0.97"/>
<path d="M1839.5,131.8C2454.9,131.8 2454.9,199.2 3070.4,199.2" stroke-width="0.70"/>
<path d="M1839.5,132.4C2454.9,132.4 2454.9,202.6 3070.4,202.6" stroke-width="0.61"/>
<path d="M1839.5,133.9C2454.9,133.9 2454.9,209.2 3070.4,209.2" stroke-width="2.31"/>
<path d="M1839.5,135.6C2454.9,135.6 2454.9,210.9 3070.4,210.9" stroke-width="1.00"/>
<path d="M1839.5,142.5C2454.9,142.5 2454.9,220.3 3070.4,220.3" stroke-width="12.94"/>
<path d="M1839.5,149.1C2454.9,149.1 2454.9,263.8 3070.4,263.8" stroke-width="0.16"/>
<path d="M1839.5,149.5C2454.9,149.5 2454.9,264.9 3070.4,264.9" stroke-width="0.61"/>
<path d="M1839.5,150.8C2454.9,150.8 2454.9,268.2 3070.4,268.2" stroke-width="1.99"/>
<path d="M1839.5,152.1C2454.9,152.1 2454.9,275.6 3070.4,275.6" stroke-width="0.73"/>
<path d="M1839.5,152.6C2454.9,152.6 2454.9,282.4 3070.4,282.4" stroke-width="0.18"/>
<path d="M1839.5,152.9C2454.9,152.9 2454.9,283.4 3070.4,283.4" stroke-width="0.44"/>
<path d="M1839.5,153.7C2454.9,153.7 2454.9,286.4 3070.4,286.4" stroke-width="1.11"/>
<path d="M1839.5,155.1C2454.9,155.1 2454.9,290.3 3070.4,290.3" stroke-width="1.79"/>
<path d="M1839.5,156.6C2454.9,156.6 2454.9,294.4 3070.4,294.4" stroke-width="1.12"/>
<path d="M1839.5,191.2C2454.9,191.2 2454.9,331.5 3070.4,331.5" stroke-width="68.23"/>
<path d="M1839.5,226.8C2454.9,226.8 2454.9,640.8 3070.4,640.8" stroke-width="2.89"/>
<path d="M1839.5,228.5C2454.9,228.5 2454.9,654.9 3070.4,654.9" stroke-width="0.56"/>
<path d="M1839.5,229.2C2454.9,229.2 2454.9,656.9 3070.4,656.9" stroke-width="0.77"/>
<path d="M1839.5,229.6C2454.9,229.6 2454.9,659.2 3070.4,659.2" stroke-width="0.06"/>
<path d="M1839.5,231.2C2454.9,231.2 2454.9,664.4 3070.4,664.4" stroke-width="3.16"/>
<path d="M1839.5,232.9C2454.9,232.9 2454.9,684.5 3070.4,684.5" stroke-width="0.30"/>
<path d="M1839.5,233.3C2454.9,233.3 2454.9,687.3 3070.4,687.3" stroke-width="0.40"/>
<path d="M1839.5,234.1C2454.9,234.1 2454.9,690.4 3070.4,690.4" stroke-width="1.14"/>
<path d="M1839.5,234.9C2454.9,234.9 2454.9,699.1 3070.4,699.1" stroke-width="0.52"/>
<path d="M1839.5,235.3C2454.9,235.3 2454.9,702.6 3070.4,702.6" stroke-width="0.26"/>
<path d="M1839.5,236.7C2454.9,236.7 2454.9,704.7 3070.4,704.7" stroke-width="2.66"/>
<path d="M1839.5,238.2C2454.9,238.2 2454.9,721.5 3070.4,721.5" stroke-width="0.34"/>
<path d="M1839.5,239.3C2454.9,239.3 2454.9,724.0 3070.4,724.0" stroke-width="1.79"/>
<path d="M1839.5,240.7C2454.9,240.7 2454.9,732.6 3070.4,732.6" stroke-width="0.94"/>
<path d="M1839.5,241.3C2454.9,241.3 2454.9,748.6 3070.4,748.6" stroke-width="0.38"/>
<path d="M1839.5,243.4C2454.9,243.4 2454.9,752.1 3070.4,752.1" stroke-width="3.77"/>
<path d="M1839.5,246.2C2454.9,246.2 2454.9,769.2 3070.4,769.2" stroke-width="1.91"/>
<path d="M1839.5,247.9C2454.9,247.9 2454.9,784.3 3070.4,784.3" stroke-width="1.50"/>
<path d="M1839.5,248.9C2454.9,248.9 2454.9,790.1 3070.4,790.1" stroke-width="0.49"/>
<path d="M1839.5,249.4C2454.9,249.4 2454.9,795.5 3070.4,795.5" stroke-width="0.49"/>
<path d="M1839.5,249.7C2454.9,249.7 2454.9,802.5 3070.4,802.5" stroke-width="0.09"/>
<path d="M1839.5,250.0C2454.9,250.0 2454.9,803.6 3070.4,803.6" stroke-width="0.53"/>
<path d="M1839.5,250.5C2454.9,250.5 2454.9,806.2 3070.4,806.2" stroke-width="0.40"/>
<path d="M1839.5,257.0C2454.9,257.0 2454.9,815.0 3070.4,815.0" stroke-width="12.55"/>
<path d="M1839.5,291.1C2454.9,291.1 2454.9,900.9 3070.4,900.9" stroke-width="55.68"/>
<path d="M1839.5,319.5C2454.9,319.5 2454.9,1146.6 3070.4,1146.6" stroke-width="1.24"/>
<path d="M1839.5,322.4C2454.9,322.4 2454.9,1155.6 3070.4,1155.6" stroke-width="4.54"/>
<path d="M1839.5,326.1C2454.9,326.1 2454.9,1172.9 3070.4,1172.9" stroke-width="2.85"/>
<path d="M1839.5,327.9C2454.9,327.9 2454.9,1185.8 3070.4,1185.8" stroke-width="0.62"/>
<path d="M1839.5,331.7C2454.9,331.7 2454.9,1191.5 3070.4,1191.5" stroke-width="7.06"/>
<path d="M1839.5,335.6C2454.9,335.6 2454.9,1215.8 3070.4,1215.8" stroke-width="0.80"/>
<path d="M1839.5,336.1C2454.9,336.1 2454.9,1224.9 3070.4,1224.9" stroke-width="0.22"/>
<path d="M1839.5,336.4C2454.9,336.4 2454.9,1226.7 3070.4,1226.7" stroke-width="0.33"/>
<path d="M1839.5,337.0C2454.9,337.0 2454.9,1230.3 3070.4,1230.3" stroke-width="0.78"/>
<path d="M1839.5,338.0C2454.9,338.0 2454.9,1235.7 3070.4,1235.7" stroke-width="1.19"/>
<path d="M1839.5,339.0C2454.9,339.0 2454.9,1247.5 3070.4,1247.5" stroke-width="0.83"/>
<path d="M1839.5,339.5C2454.9,339.5 2454.9,1250.7 3070.4,1250.7" stroke-width="0.28"/>
<path d="M1839.5,339.8C2454.9,339.8 2454.9,1252.4 3070.4,1252.4" stroke-width="0.26"/>
<path d="M1839.5,340.1C2454.9,340.1 2454.9,1253.3 3070.4,1253.3" stroke-width="0.33"/>
<path d="M1839.5,340.5C2454.9,340.5 2454.9,1257.6 3070.4,1257.6" stroke-width="0.48"/>
<path d="M1839.5,341.1C2454.9,341.1 2454.9,1258.6 3070.4,1258.6" stroke-width="0.64"/>
<path d="M1839.5,342.3C2454.9,342.3 2454.9,1260.9 3070.4,1260.9" stroke-width="1.80"/>
<path d="M1839.5,343.5C2454.9,343.5 2454.9,1268.0 3070.4,1268.0" stroke-width="0.67"/>
<path d="M1839.5,344.0C2454.9,344.0 2454.9,1273.0 3070.4,1273.0" stroke-width="0.26"/>
<path d="M1839.5,345.3C2454.9,345.3 2454.9,1277.5 3070.4,1277.5" stroke-width="2.46"/>
<path d="M1839.5,346.6C2454.9,346.6 2454.9,1294.3 3070.4,1294.3" stroke-width="0.10"/>
<path d="M1839.5,346.8C2454.9,346.8 2454.9,1295.3 3070.4,1295.3" stroke-width="0.26"/>
<path d="M1839.5,350.1C2454.9,350.1 2454.9,1301.7 3070.4,1301.7" stroke-width="6.27"/>
<path d="M1839.5,353.6C2454.9,353.6 2454.9,1327.2 3070.4,1327.2" stroke-width="0.82"/>
<path d="M1839.5,354.6C2454.9,354.6 2454.9,1333.5 3070.4,1333.5" stroke-width="1.18"/>
<path d="M1839.5,355.7C2454.9,355.7 2454.9,1338.7 3070.4,1338.7" stroke-width="0.91"/>
<path d="M1839.5,359.6C2454.9,359.6 2454.9,1345.6 3070.4,1345.6" stroke-width="7.06"/>
<path d="M1839.5,363.4C2454.9,363.4 2454.9,1383.1 3070.4,1383.1" stroke-width="0.45"/>
<path d="M1839.5,364.3C2454.9,364.3 2454.9,1385.1 3070.4,1385.1" stroke-width="1.31"/>
<path d="M1839.5,365.3C2454.9,365.3 2454.9,1388.7 3070.4,1388.7" stroke-width="0.73"/>
<path d="M1839.5,366.0C2454.9,366.0 2454.9,1390.2 3070.4,1390.2" stroke-width="0.67"/>
<path d="M1839.5,366.4C2454.9,366.4 2454.9,1396.1 3070.4,1396.1" stroke-width="0.19"/>
<path d="M1839.5,366.6C2454.9,366.6 2454.9,1396.8 3070.4,1396.8" stroke-width="0.09"/>
<path d="M1839.5,367.2C2454.9,367.2 2454.9,1398.9 3070.4,1398.9" stroke-width="1.16"/>
<path d="M1839.5,368.0C2454.9,368.0 2454.9,1404.8 3070.4,1404.8" stroke-width="0.52"/>
<path d="M1839.5,369.5C2454.9,369.5 2454.9,1407.2 3070.4,1407.2" stroke-width="2.37"/>
<path d="M1839.5,373.0C2454.9,373.0 2454.9,1423.8 3070.4,1423.8" stroke-width="4.71"/>
<path d="M1839.5,376.5C2454.9,376.5 2454.9,1462.6 3070.4,1462.6" stroke-width="2.21"/>
<path d="M1839.5,377.8C2454.9,377.8 2454.9,1470.7 3070.4,1470.7" stroke-width="0.35"/>
<path d="M1839.5,378.1C2454.9,378.1 2454.9,1471.7 3070.4,1471.7" stroke-width="0.38"/>
<path d="M1839.5,378.6C2454.9,378.6 2454.9,1474.5 3070.4,1474.5" stroke-width="0.63"/>
<path d="M1839.5,379.6C2454.9,379.6 2454.9,1477.6 3070.4,1477.6" stroke-width="1.30"/>
<path d="M1839.5,385.3C2454.9,385.3 2454.9,1489.3 3070.4,1489.3" stroke-width="10.20"/>
<path d="M1839.5,391.0C2454.9,391.0 2454.9,1516.1 3070.4,1516.1" stroke-width="1.11"/>
<path d="M1839.5,391.9C2454.9,391.9 2454.9,1518.5 3070.4,1518.5" stroke-width="0.64"/>
<path d="M1839.5,393.2C2454.9,393.2 2454.9,1526.1 3070.4,1526.1" stroke-width="2.04"/>
<path d="M1839.5,394.6C2454.9,394.6 2454.9,1536.6 3070.4,1536.6" stroke-width="0.73"/>
<path d="M1839.5,395.4C2454.9,395.4 2454.9,1540.2 3070.4,1540.2" stroke-width="0.87"/>
<path d="M1839.5,395.9C2454.9,395.9 2454.9,1541.6 3070.4,1541.6" stroke-width="0.22"/>
<path d="M1839.5,396.1C2454.9,396.1 2454.9,1550.2 3070.4,1550.2" stroke-width="0.20"/>
<path d="M1839.5,396.6C2454.9,396.6 2454.9,1552.2 3070.4,1552.2" stroke-width="0.81"/>
<path d="M1839.5,397.2C2454.9,397.2 2454.9,1557.2 3070.4,1557.2" stroke-width="0.38"/>
<path d="M1839.5,397.6C2454.9,397.6 2454.9,1559.8 3070.4,1559.8" stroke-width="0.41"/>
<path d="M1839.5,398.8C2454.9,398.8 2454.9,1562.3 3070.4,1562.3" stroke-width="1.93"/>
<path d="M1839.5,400.2C2454.9,400.2 2454.9,1576.4 3070.4,1576.4" stroke-width="0.82"/>
<path d="M1839.5,400.7C2454.9,400.7 2454.9,1577.8 3070.4,1577.8" stroke-width="0.24"/>
<path d="M1839.5,402.6C2454.9,402.6 2454.9,1582.9 3070.4,1582.9" stroke-width="3.58"/>
<path d="M1839.5,405.0C2454.9,405.0 2454.9,1595.6 3070.4,1595.6" stroke-width="1.25"/>
<path d="M1839.5,406.1C2454.9,406.1 2454.9,1600.6 3070.4,1600.6" stroke-width="0.91"/>
<path d="M1839.5,408.3C2454.9,408.3 2454.9,1613.0 3070.4,1613.0" stroke-width="3.40"/>
<path d="M1839.5,410.6C2454.9,410.6 2454.9,1625.8 3070.4,1625.8" stroke-width="1.27"/>
<path d="M1839.5,422.6C2454.9,422.6 2454.9,1645.1 3070.4,1645.1" stroke-width="22.74"/>
<path d="M1839.5,434.8C2454.9,434.8 2454.9,1761.7 3070.4,1761.7" stroke-width="1.62"/>
<path d="M1839.5,436.1C2454.9,436.1 2454.9,1768.0 3070.4,1768.0" stroke-width="0.92"/>
<path d="M1839.5,437.2C2454.9,437.2 2454.9,1774.8 3070.4,1774.8" stroke-width="1.29"/>
<path d="M1839.5,438.0C2454.9,438.0 2454.9,1791.9 3070.4,1791.9" stroke-width="0.36"/>
<path d="M1839.5,438.6C2454.9,438.6 2454.9,1798.0 3070.4,1798.0" stroke-width="0.90"/>
<path d="M1839.5,439.2C2454.9,439.2 2454.9,1808.5 3070.4,1808.5" stroke-width="0.24"/>
<path d="M1839.5,439.6C2454.9,439.6 2454.9,1812.0 3070.4,1812.0" stroke-width="0.62"/>
</g>
<g stroke="#6092C0">
<path d="M1839.5,440.4C2454.9,440.4 2454.9,116.9 3070.4,116.9" stroke-width="0.94"/>
<path d="M1839.5,441.1C2454.9,441.1 2454.9,122.4 3070.4,122.4" stroke-width="0.51"/>
<path d="M1839.5,442.1C2454.9,442.1 2454.9,124.2 3070.4,124.2" stroke-width="1.44"/>
<path d="M1839.5,444.2C2454.9,444.2 2454.9,131.6 3070.4,131.6" stroke-width="2.69"/>
<path d="M1839.5,445.8C2454.9,445.8 2454.9,143.1 3070.4,143.1" stroke-width="0.52"/>
<path d="M1839.5,446.2C2454.9,446.2 2454.9,147.5 3070.4,147.5" stroke-width="0.36"/>
<path d="M1839.5,446.6C2454.9,446.6 2454.9,148.9 3070.4,148.9" stroke-width="0.43"/>
<path d="M1839.5,453.7C2454.9,453.7 2454.9,164.8 3070.4,164.8" stroke-width="13.65"/>
<path d="M1839.5,460.9C2454.9,460.9 2454.9,195.6 3070.4,195.6" stroke-width="0.91"/>
<path d="M1839.5,461.9C2454.9,461.9 2454.9,200.0 3070.4,200.0" stroke-width="0.98"/>
<path d="M1839.5,462.9C2454.9,462.9 2454.9,203.4 3070.4,203.4" stroke-width="0.95"/>
<path d="M1839.5,463.7C2454.9,463.7 2454.9,206.2 3070.4,206.2" stroke-width="0.84"/>
<path d="M1839.5,464.7C2454.9,464.7 2454.9,211.9 3070.4,211.9" stroke-width="1.03"/>
<path d="M1839.5,470.7C2454.9,470.7 2454.9,232.3 3070.4,232.3" stroke-width="10.98"/>
<path d="M1839.5,476.4C2454.9,476.4 2454.9,265.4 3070.4,265.4" stroke-width="0.45"/>
<path d="M1839.5,478.0C2454.9,478.0 2454.9,270.6 3070.4,270.6" stroke-width="2.67"/>
<path d="M1839.5,480.7C2454.9,480.7 2454.9,277.3 3070.4,277.3" stroke-width="2.73"/>
<path d="M1839.5,482.2C2454.9,482.2 2454.9,282.7 3070.4,282.7" stroke-width="0.33"/>
<path d="M1839.5,482.4C2454.9,482.4 2454.9,283.8 3070.4,283.8" stroke-width="0.19"/>
<path d="M1839.5,483.0C2454.9,483.0 2454.9,284.5 3070.4,284.5" stroke-width="0.85"/>
<path d="M1839.5,483.6C2454.9,483.6 2454.9,287.2 3070.4,287.2" stroke-width="0.31"/>
<path d="M1839.5,484.0C2454.9,484.0 2454.9,291.5 3070.4,291.5" stroke-width="0.61"/>
<path d="M1839.5,484.7C2454.9,484.7 2454.9,295.3 3070.4,295.3" stroke-width="0.71"/>
<path d="M1839.5,513.7C2454.9,513.7 2454.9,394.3 3070.4,394.3" stroke-width="57.25"/>
<path d="M1839.5,544.9C2454.9,544.9 2454.9,644.8 3070.4,644.8" stroke-width="5.19"/>
<path d="M1839.5,547.6C2454.9,547.6 2454.9,655.4 3070.4,655.4" stroke-width="0.28"/>
<path d="M1839.5,547.9C2454.9,547.9 2454.9,659.4 3070.4,659.4" stroke-width="0.27"/>
<path d="M1839.5,552.8C2454.9,552.8 2454.9,670.7 3070.4,670.7" stroke-width="9.47"/>
<path d="M1839.5,557.8C2454.9,557.8 2454.9,685.0 3070.4,685.0" stroke-width="0.61"/>
<path d="M1839.5,558.8C2454.9,558.8 2454.9,686.1 3070.4,686.1" stroke-width="1.50"/>
<path d="M1839.5,560.3C2454.9,560.3 2454.9,688.2 3070.4,688.2" stroke-width="1.39"/>
<path d="M1839.5,562.3C2454.9,562.3 2454.9,692.3 3070.4,692.3" stroke-width="2.70"/>
<path d="M1839.5,564.1C2454.9,564.1 2454.9,699.8 3070.4,699.8" stroke-width="0.86"/>
<path d="M1839.5,564.8C2454.9,564.8 2454.9,702.9 3070.4,702.9" stroke-width="0.48"/>
<path d="M1839.5,566.7C2454.9,566.7 2454.9,707.6 3070.4,707.6" stroke-width="3.28"/>
<path d="M1839.5,568.7C2454.9,568.7 2454.9,722.1 3070.4,722.1" stroke-width="0.77"/>
<path d="M1839.5,569.7C2454.9,569.7 2454.9,725.6 3070.4,725.6" stroke-width="1.24"/>
<path d="M1839.5,572.2C2454.9,572.2 2454.9,735.0 3070.4,735.0" stroke-width="3.80"/>
<path d="M1839.5,574.6C2454.9,574.6 2454.9,749.2 3070.4,749.2" stroke-width="0.97"/>
<path d="M1839.5,576.9C2454.9,576.9 2454.9,755.8 3070.4,755.8" stroke-width="3.68"/>
<path d="M1839.5,579.5C2454.9,579.5 2454.9,770.8 3070.4,770.8" stroke-width="1.47"/>
<path d="M1839.5,580.3C2454.9,580.3 2454.9,782.7 3070.4,782.7" stroke-width="0.24"/>
<path d="M1839.5,580.9C2454.9,580.9 2454.9,785.4 3070.4,785.4" stroke-width="0.77"/>
<path d="M1839.5,581.6C2454.9,581.6 2454.9,790.7 3070.4,790.7" stroke-width="0.76"/>
<path d="M1839.5,582.5C2454.9,582.5 2454.9,793.0 3070.4,793.0" stroke-width="0.91"/>
<path d="M1839.5,583.7C2454.9,583.7 2454.9,796.5 3070.4,796.5" stroke-width="1.57"/>
<path d="M1839.5,585.4C2454.9,585.4 2454.9,801.5 3070.4,801.5" stroke-width="1.80"/>
<path d="M1839.5,586.5C2454.9,586.5 2454.9,802.8 3070.4,802.8" stroke-width="0.50"/>
<path d="M1839.5,587.4C2454.9,587.4 2454.9,804.5 3070.4,804.5" stroke-width="1.21"/>
<path d="M1839.5,588.2C2454.9,588.2 2454.9,806.7 3070.4,806.7" stroke-width="0.43"/>
<path d="M1839.5,595.5C2454.9,595.5 2454.9,828.4 3070.4,828.4" stroke-width="14.12"/>
<path d="M1839.5,627.2C2454.9,627.2 2454.9,953.4 3070.4,953.4" stroke-width="49.41"/>
<path d="M1839.5,652.9C2454.9,652.9 2454.9,1148.1 3070.4,1148.1" stroke-width="1.88"/>
<path d="M1839.5,657.1C2454.9,657.1 2454.9,1161.2 3070.4,1161.2" stroke-width="6.63"/>
<path d="M1839.5,662.7C2454.9,662.7 2454.9,1176.6 3070.4,1176.6" stroke-width="4.54"/>
<path d="M1839.5,665.2C2454.9,665.2 2454.9,1184.8 3070.4,1184.8" stroke-width="0.34"/>
<path d="M1839.5,668.1C2454.9,668.1 2454.9,1197.7 3070.4,1197.7" stroke-width="5.49"/>
<path d="M1839.5,672.6C2454.9,672.6 2454.9,1218.0 3070.4,1218.0" stroke-width="3.59"/>
<path d="M1839.5,674.7C2454.9,674.7 2454.9,1227.1 3070.4,1227.1" stroke-width="0.52"/>
<path d="M1839.5,675.6C2454.9,675.6 2454.9,1231.4 3070.4,1231.4" stroke-width="1.30"/>
<path d="M1839.5,677.8C2454.9,677.8 2454.9,1237.9 3070.4,1237.9" stroke-width="3.15"/>
<path d="M1839.5,679.9C2454.9,679.9 2454.9,1248.4 3070.4,1248.4" stroke-width="0.99"/>
<path d="M1839.5,680.6C2454.9,680.6 2454.9,1251.1 3070.4,1251.1" stroke-width="0.49"/>
<path d="M1839.5,681.3C2454.9,681.3 2454.9,1253.8 3070.4,1253.8" stroke-width="0.81"/>
<path d="M1839.5,682.1C2454.9,682.1 2454.9,1259.3 3070.4,1259.3" stroke-width="0.75"/>
<path d="M1839.5,683.0C2454.9,683.0 2454.9,1262.3 3070.4,1262.3" stroke-width="1.13"/>
<path d="M1839.5,684.2C2454.9,684.2 2454.9,1269.0 3070.4,1269.0" stroke-width="1.18"/>
<path d="M1839.5,685.1C2454.9,685.1 2454.9,1273.5 3070.4,1273.5" stroke-width="0.74"/>
<path d="M1839.5,688.0C2454.9,688.0 2454.9,1281.3 3070.4,1281.3" stroke-width="5.06"/>
<path d="M1839.5,690.6C2454.9,690.6 2454.9,1294.5 3070.4,1294.5" stroke-width="0.13"/>
<path d="M1839.5,691.2C2454.9,691.2 2454.9,1295.9 3070.4,1295.9" stroke-width="1.08"/>
<path d="M1839.5,694.1C2454.9,694.1 2454.9,1307.2 3070.4,1307.2" stroke-width="4.71"/>
<path d="M1839.5,697.4C2454.9,697.4 2454.9,1328.6 3070.4,1328.6" stroke-width="1.85"/>
<path d="M1839.5,699.0C2454.9,699.0 2454.9,1334.8 3070.4,1334.8" stroke-width="1.42"/>
<path d="M1839.5,700.3C2454.9,700.3 2454.9,1339.7 3070.4,1339.7" stroke-width="1.04"/>
<path d="M1839.5,703.5C2454.9,703.5 2454.9,1351.9 3070.4,1351.9" stroke-width="5.49"/>
<path d="M1839.5,706.4C2454.9,706.4 2454.9,1383.4 3070.4,1383.4" stroke-width="0.23"/>
<path d="M1839.5,706.7C2454.9,706.7 2454.9,1385.9 3070.4,1385.9" stroke-width="0.33"/>
<path d="M1839.5,707.7C2454.9,707.7 2454.9,1391.3 3070.4,1391.3" stroke-width="1.64"/>
<path d="M1839.5,708.6C2454.9,708.6 2454.9,1397.0 3070.4,1397.0" stroke-width="0.29"/>
<path d="M1839.5,709.0C2454.9,709.0 2454.9,1397.7 3070.4,1397.7" stroke-width="0.39"/>
<path d="M1839.5,709.6C2454.9,709.6 2454.9,1400.0 3070.4,1400.0" stroke-width="0.95"/>
<path d="M1839.5,710.5C2454.9,710.5 2454.9,1405.4 3070.4,1405.4" stroke-width="0.81"/>
<path d="M1839.5,712.9C2454.9,712.9 2454.9,1410.4 3070.4,1410.4" stroke-width="4.02"/>
<path d="M1839.5,720.0C2454.9,720.0 2454.9,1431.3 3070.4,1431.3" stroke-width="10.20"/>
<path d="M1839.5,725.9C2454.9,725.9 2454.9,1464.5 3070.4,1464.5" stroke-width="1.58"/>
<path d="M1839.5,726.9C2454.9,726.9 2454.9,1471.1 3070.4,1471.1" stroke-width="0.34"/>
<path d="M1839.5,727.5C2454.9,727.5 2454.9,1472.3 3070.4,1472.3" stroke-width="0.95"/>
<path d="M1839.5,728.2C2454.9,728.2 2454.9,1475.0 3070.4,1475.0" stroke-width="0.32"/>
<path d="M1839.5,728.5C2454.9,728.5 2454.9,1478.4 3070.4,1478.4" stroke-width="0.33"/>
<path d="M1839.5,728.9C2454.9,728.9 2454.9,1482.6 3070.4,1482.6" stroke-width="0.50"/>
<path d="M1839.5,731.1C2454.9,731.1 2454.9,1496.4 3070.4,1496.4" stroke-width="3.92"/>
<path d="M1839.5,733.5C2454.9,733.5 2454.9,1519.3 3070.4,1519.3" stroke-width="0.91"/>
<path d="M1839.5,735.0C2454.9,735.0 2454.9,1528.2 3070.4,1528.2" stroke-width="2.11"/>
<path d="M1839.5,737.0C2454.9,737.0 2454.9,1538.9 3070.4,1538.9" stroke-width="1.73"/>
<path d="M1839.5,738.0C2454.9,738.0 2454.9,1540.8 3070.4,1540.8" stroke-width="0.36"/>
<path d="M1839.5,738.8C2454.9,738.8 2454.9,1542.3 3070.4,1542.3" stroke-width="1.25"/>
<path d="M1839.5,739.8C2454.9,739.8 2454.9,1550.7 3070.4,1550.7" stroke-width="0.84"/>
<path d="M1839.5,740.7C2454.9,740.7 2454.9,1553.1 3070.4,1553.1" stroke-width="0.92"/>
<path d="M1839.5,741.6C2454.9,741.6 2454.9,1557.8 3070.4,1557.8" stroke-width="0.88"/>
<path d="M1839.5,742.2C2454.9,742.2 2454.9,1560.1 3070.4,1560.1" stroke-width="0.27"/>
<path d="M1839.5,743.3C2454.9,743.3 2454.9,1564.2 3070.4,1564.2" stroke-width="1.97"/>
<path d="M1839.5,744.5C2454.9,744.5 2454.9,1576.9 3070.4,1576.9" stroke-width="0.33"/>
<path d="M1839.5,744.7C2454.9,744.7 2454.9,1578.0 3070.4,1578.0" stroke-width="0.18"/>
<path d="M1839.5,745.3C2454.9,745.3 2454.9,1579.0 3070.4,1579.0" stroke-width="0.86"/>
<path d="M1839.5,747.3C2454.9,747.3 2454.9,1586.3 3070.4,1586.3" stroke-width="3.23"/>
<path d="M1839.5,749.1C2454.9,749.1 2454.9,1596.4 3070.4,1596.4" stroke-width="0.47"/>
<path d="M1839.5,751.1C2454.9,751.1 2454.9,1602.7 3070.4,1602.7" stroke-width="3.41"/>
<path d="M1839.5,754.4C2454.9,754.4 2454.9,1616.4 3070.4,1616.4" stroke-width="3.30"/>
<path d="M1839.5,757.3C2454.9,757.3 2454.9,1627.6 3070.4,1627.6" stroke-width="2.34"/>
<path d="M1839.5,766.3C2454.9,766.3 2454.9,1664.3 3070.4,1664.3" stroke-width="15.68"/>
<path d="M1839.5,774.2C2454.9,774.2 2454.9,1760.1 3070.4,1760.1" stroke-width="0.22"/>
<path d="M1839.5,775.3C2454.9,775.3 2454.9,1763.4 3070.4,1763.4" stroke-width="1.90"/>
<path d="M1839.5,776.8C2454.9,776.8 2454.9,1769.0 3070.4,1769.0" stroke-width="1.08"/>
<path d="M1839.5,778.3C2454.9,778.3 2454.9,1776.5 3070.4,1776.5" stroke-width="2.01"/>
<path d="M1839.5,780.0C2454.9,780.0 2454.9,1792.7 3070.4,1792.7" stroke-width="1.37"/>
<path d="M1839.5,781.3C2454.9,781.3 2454.9,1799.0 3070.4,1799.0" stroke-width="1.22"/>
<path d="M1839.5,782.4C2454.9,782.4 2454.9,1809.0 3070.4,1809.0" stroke-width="0.90"/>
<path d="M1839.5,783.2C2454.9,783.2 2454.9,1812.7 3070.4,1812.7" stroke-width="0.75"/>
</g>
<g stroke="#D36086">
<path d="M1839.5,783.8C2454.9,783.8 2454.9,113.8 3070.4,113.8" stroke-width="0.40"/>
<path d="M1839.5,784.2C2454.9,784.2 2454.9,117.6 3070.4,117.6" stroke-width="0.43"/>
<path d="M1839.5,784.6C2454.9,784.6 2454.9,121.6 3070.4,121.6" stroke-width="0.40"/>
<path d="M1839.5,784.9C2454.9,784.9 2454.9,122.7 3070.4,122.7" stroke-width="0.22"/>
<path d="M1839.5,785.1C2454.9,785.1 2454.9,125.0 3070.4,125.0" stroke-width="0.22"/>
<path d="M1839.5,785.8C2454.9,785.8 2454.9,133.5 3070.4,133.5" stroke-width="1.14"/>
<path d="M1839.5,786.5C2454.9,786.5 2454.9,140.6 3070.4,140.6" stroke-width="0.32"/>
<path d="M1839.5,786.9C2454.9,786.9 2454.9,143.5 3070.4,143.5" stroke-width="0.40"/>
<path d="M1839.5,787.1C2454.9,787.1 2454.9,147.8 3070.4,147.8" stroke-width="0.13"/>
<path d="M1839.5,787.3C2454.9,787.3 2454.9,149.2 3070.4,149.2" stroke-width="0.09"/>
<path d="M1839.5,791.4C2454.9,791.4 2454.9,175.7 3070.4,175.7" stroke-width="8.23"/>
<path d="M1839.5,795.6C2454.9,795.6 2454.9,196.2 3070.4,196.2" stroke-width="0.16"/>
<path d="M1839.5,795.9C2454.9,795.9 2454.9,200.7 3070.4,200.7" stroke-width="0.38"/>
<path d="M1839.5,796.2C2454.9,796.2 2454.9,203.9 3070.4,203.9" stroke-width="0.19"/>
<path d="M1839.5,796.3C2454.9,796.3 2454.9,204.6 3070.4,204.6" stroke-width="0.08"/>
<path d="M1839.5,796.4C2454.9,796.4 2454.9,206.7 3070.4,206.7" stroke-width="0.15"/>
<path d="M1839.5,796.7C2454.9,796.7 2454.9,212.6 3070.4,212.6" stroke-width="0.35"/>
<path d="M1839.5,801.9C2454.9,801.9 2454.9,242.8 3070.4,242.8" stroke-width="10.20"/>
<path d="M1839.5,807.1C2454.9,807.1 2454.9,263.9 3070.4,263.9" stroke-width="0.08"/>
<path d="M1839.5,807.4C2454.9,807.4 2454.9,272.2 3070.4,272.2" stroke-width="0.50"/>
<path d="M1839.5,807.8C2454.9,807.8 2454.9,278.9 3070.4,278.9" stroke-width="0.41"/>
<path d="M1839.5,808.2C2454.9,808.2 2454.9,287.5 3070.4,287.5" stroke-width="0.35"/>
<path d="M1839.5,808.5C2454.9,808.5 2454.9,292.0 3070.4,292.0" stroke-width="0.24"/>
<path d="M1839.5,808.7C2454.9,808.7 2454.9,295.8 3070.4,295.8" stroke-width="0.20"/>
<path d="M1839.5,848.8C2454.9,848.8 2454.9,462.9 3070.4,462.9" stroke-width="79.99"/>
<path d="M1839.5,890.8C2454.9,890.8 2454.9,649.5 3070.4,649.5" stroke-width="4.08"/>
<path d="M1839.5,893.1C2454.9,893.1 2454.9,655.8 3070.4,655.8" stroke-width="0.51"/>
<path d="M1839.5,894.1C2454.9,894.1 2454.9,658.0 3070.4,658.0" stroke-width="1.42"/>
<path d="M1839.5,895.1C2454.9,895.1 2454.9,660.4 3070.4,660.4" stroke-width="0.64"/>
<path d="M1839.5,896.4C2454.9,896.4 2454.9,676.4 3070.4,676.4" stroke-width="1.93"/>
<path d="M1839.5,897.5C2454.9,897.5 2454.9,687.0 3070.4,687.0" stroke-width="0.30"/>
<path d="M1839.5,898.0C2454.9,898.0 2454.9,689.2 3070.4,689.2" stroke-width="0.55"/>
<path d="M1839.5,899.0C2454.9,899.0 2454.9,694.4 3070.4,694.4" stroke-width="1.44"/>
<path d="M1839.5,900.0C2454.9,900.0 2454.9,700.5 3070.4,700.5" stroke-width="0.58"/>
<path d="M1839.5,902.2C2454.9,902.2 2454.9,711.2 3070.4,711.2" stroke-width="3.83"/>
<path d="M1839.5,904.2C2454.9,904.2 2454.9,722.6 3070.4,722.6" stroke-width="0.23"/>
<path d="M1839.5,905.5C2454.9,905.5 2454.9,727.4 3070.4,727.4" stroke-width="2.38"/>
<path d="M1839.5,909.1C2454.9,909.1 2454.9,739.3 3070.4,739.3" stroke-width="4.86"/>
<path d="M1839.5,911.8C2454.9,911.8 2454.9,750.0 3070.4,750.0" stroke-width="0.45"/>
<path d="M1839.5,914.9C2454.9,914.9 2454.9,760.5 3070.4,760.5" stroke-width="5.70"/>
<path d="M1839.5,917.9C2454.9,917.9 2454.9,767.5 3070.4,767.5" stroke-width="0.40"/>
<path d="M1839.5,919.6C2454.9,919.6 2454.9,773.0 3070.4,773.0" stroke-width="2.92"/>
<path d="M1839.5,921.2C2454.9,921.2 2454.9,783.0 3070.4,783.0" stroke-width="0.38"/>
<path d="M1839.5,921.6C2454.9,921.6 2454.9,786.0 3070.4,786.0" stroke-width="0.40"/>
<path d="M1839.5,922.1C2454.9,922.1 2454.9,791.4 3070.4,791.4" stroke-width="0.61"/>
<path d="M1839.5,922.6C2454.9,922.6 2454.9,793.7 3070.4,793.7" stroke-width="0.47"/>
<path d="M1839.5,923.1C2454.9,923.1 2454.9,797.5 3070.4,797.5" stroke-width="0.51"/>
<path d="M1839.5,923.5C2454.9,923.5 2454.9,805.2 3070.4,805.2" stroke-width="0.23"/>
<path d="M1839.5,924.0C2454.9,924.0 2454.9,807.2 3070.4,807.2" stroke-width="0.68"/>
<path d="M1839.5,932.2C2454.9,932.2 2454.9,843.3 3070.4,843.3" stroke-width="15.68"/>
<path d="M1839.5,965.9C2454.9,965.9 2454.9,1004.0 3070.4,1004.0" stroke-width="51.76"/>
<path d="M1839.5,991.9C2454.9,991.9 2454.9,1149.2 3070.4,1149.2" stroke-width="0.29"/>
<path d="M1839.5,993.7C2454.9,993.7 2454.9,1166.2 3070.4,1166.2" stroke-width="3.31"/>
<path d="M1839.5,996.1C2454.9,996.1 2454.9,1179.6 3070.4,1179.6" stroke-width="1.56"/>
<path d="M1839.5,997.0C2454.9,997.0 2454.9,1185.0 3070.4,1185.0" stroke-width="0.14"/>
<path d="M1839.5,997.3C2454.9,997.3 2454.9,1186.3 3070.4,1186.3" stroke-width="0.52"/>
<path d="M1839.5,1000.7C2454.9,1000.7 2454.9,1203.6 3070.4,1203.6" stroke-width="6.27"/>
<path d="M1839.5,1004.4C2454.9,1004.4 2454.9,1220.3 3070.4,1220.3" stroke-width="1.09"/>
<path d="M1839.5,1005.1C2454.9,1005.1 2454.9,1225.1 3070.4,1225.1" stroke-width="0.23"/>
<path d="M1839.5,1005.5C2454.9,1005.5 2454.9,1227.7 3070.4,1227.7" stroke-width="0.58"/>
<path d="M1839.5,1006.3C2454.9,1006.3 2454.9,1232.6 3070.4,1232.6" stroke-width="1.09"/>
<path d="M1839.5,1007.6C2454.9,1007.6 2454.9,1240.2 3070.4,1240.2" stroke-width="1.58"/>
<path d="M1839.5,1008.5C2454.9,1008.5 2454.9,1246.4 3070.4,1246.4" stroke-width="0.21"/>
<path d="M1839.5,1008.8C2454.9,1008.8 2454.9,1249.1 3070.4,1249.1" stroke-width="0.40"/>
<path d="M1839.5,1009.1C2454.9,1009.1 2454.9,1251.4 3070.4,1251.4" stroke-width="0.18"/>
<path d="M1839.5,1009.7C2454.9,1009.7 2454.9,1254.8 3070.4,1254.8" stroke-width="1.00"/>
<path d="M1839.5,1010.3C2454.9,1010.3 2454.9,1258.0 3070.4,1258.0" stroke-width="0.19"/>
<path d="M1839.5,1010.6C2454.9,1010.6 2454.9,1259.8 3070.4,1259.8" stroke-width="0.33"/>
<path d="M1839.5,1011.2C2454.9,1011.2 2454.9,1263.4 3070.4,1263.4" stroke-width="1.02"/>
<path d="M1839.5,1011.9C2454.9,1011.9 2454.9,1267.0 3070.4,1267.0" stroke-width="0.27"/>
<path d="M1839.5,1012.5C2454.9,1012.5 2454.9,1270.1 3070.4,1270.1" stroke-width="1.02"/>
<path d="M1839.5,1013.4C2454.9,1013.4 2454.9,1274.2 3070.4,1274.2" stroke-width="0.72"/>
<path d="M1839.5,1014.9C2454.9,1014.9 2454.9,1284.9 3070.4,1284.9" stroke-width="2.27"/>
<path d="M1839.5,1016.1C2454.9,1016.1 2454.9,1293.5 3070.4,1293.5" stroke-width="0.14"/>
<path d="M1839.5,1016.3C2454.9,1016.3 2454.9,1294.6 3070.4,1294.6" stroke-width="0.17"/>
<path d="M1839.5,1016.6C2454.9,1016.6 2454.9,1296.7 3070.4,1296.7" stroke-width="0.40"/>
<path d="M1839.5,1020.3C2454.9,1020.3 2454.9,1313.1 3070.4,1313.1" stroke-width="7.06"/>
<path d="M1839.5,1024.5C2454.9,1024.5 2454.9,1330.2 3070.4,1330.2" stroke-width="1.45"/>
<path d="M1839.5,1025.8C2454.9,1025.8 2454.9,1336.1 3070.4,1336.1" stroke-width="1.13"/>
<path d="M1839.5,1026.6C2454.9,1026.6 2454.9,1340.5 3070.4,1340.5" stroke-width="0.46"/>
<path d="M1839.5,1032.3C2454.9,1032.3 2454.9,1360.1 3070.4,1360.1" stroke-width="10.98"/>
<path d="M1839.5,1037.9C2454.9,1037.9 2454.9,1383.6 3070.4,1383.6" stroke-width="0.13"/>
<path d="M1839.5,1038.1C2454.9,1038.1 2454.9,1386.3 3070.4,1386.3" stroke-width="0.35"/>
<path d="M1839.5,1038.4C2454.9,1038.4 2454.9,1392.3 3070.4,1392.3" stroke-width="0.24"/>
<path d="M1839.5,1038.7C2454.9,1038.7 2454.9,1396.4 3070.4,1396.4" stroke-width="0.33"/>
<path d="M1839.5,1039.0C2454.9,1039.0 2454.9,1397.2 3070.4,1397.2" stroke-width="0.16"/>
<path d="M1839.5,1039.8C2454.9,1039.8 2454.9,1401.2 3070.4,1401.2" stroke-width="1.49"/>
<path d="M1839.5,1041.1C2454.9,1041.1 2454.9,1413.0 3070.4,1413.0" stroke-width="1.18"/>
<path d="M1839.5,1046.4C2454.9,1046.4 2454.9,1441.1 3070.4,1441.1" stroke-width="9.41"/>
<path d="M1839.5,1051.6C2454.9,1051.6 2454.9,1465.7 3070.4,1465.7" stroke-width="0.97"/>
<path d="M1839.5,1052.2C2454.9,1052.2 2454.9,1471.4 3070.4,1471.4" stroke-width="0.22"/>
<path d="M1839.5,1052.5C2454.9,1052.5 2454.9,1475.4 3070.4,1475.4" stroke-width="0.41"/>
<path d="M1839.5,1052.8C2454.9,1052.8 2454.9,1476.1 3070.4,1476.1" stroke-width="0.25"/>
<path d="M1839.5,1053.4C2454.9,1053.4 2454.9,1479.0 3070.4,1479.0" stroke-width="0.84"/>
<path d="M1839.5,1056.1C2454.9,1056.1 2454.9,1500.7 3070.4,1500.7" stroke-width="4.71"/>
<path d="M1839.5,1059.0C2454.9,1059.0 2454.9,1517.2 3070.4,1517.2" stroke-width="0.99"/>
<path d="M1839.5,1060.2C2454.9,1060.2 2454.9,1520.5 3070.4,1520.5" stroke-width="1.49"/>
<path d="M1839.5,1061.6C2454.9,1061.6 2454.9,1529.8 3070.4,1529.8" stroke-width="1.20"/>
<path d="M1839.5,1062.7C2454.9,1062.7 2454.9,1534.2 3070.4,1534.2" stroke-width="1.10"/>
<path d="M1839.5,1063.4C2454.9,1063.4 2454.9,1537.1 3070.4,1537.1" stroke-width="0.19"/>
<path d="M1839.5,1063.6C2454.9,1063.6 2454.9,1543.1 3070.4,1543.1" stroke-width="0.35"/>
<path d="M1839.5,1064.0C2454.9,1064.0 2454.9,1545.1 3070.4,1545.1" stroke-width="0.35"/>
<path d="M1839.5,1064.5C2454.9,1064.5 2454.9,1551.5 3070.4,1551.5" stroke-width="0.69"/>
<path d="M1839.5,1065.1C2454.9,1065.1 2454.9,1553.8 3070.4,1553.8" stroke-width="0.56"/>
<path d="M1839.5,1065.7C2454.9,1065.7 2454.9,1558.6 3070.4,1558.6" stroke-width="0.70"/>
<path d="M1839.5,1066.1C2454.9,1066.1 2454.9,1560.3 3070.4,1560.3" stroke-width="0.07"/>
<path d="M1839.5,1066.8C2454.9,1066.8 2454.9,1565.8 3070.4,1565.8" stroke-width="1.25"/>
<path d="M1839.5,1067.5C2454.9,1067.5 2454.9,1577.2 3070.4,1577.2" stroke-width="0.17"/>
<path d="M1839.5,1067.6C2454.9,1067.6 2454.9,1578.2 3070.4,1578.2" stroke-width="0.13"/>
<path d="M1839.5,1067.8C2454.9,1067.8 2454.9,1579.5 3070.4,1579.5" stroke-width="0.27"/>
<path d="M1839.5,1069.1C2454.9,1069.1 2454.9,1589.0 3070.4,1589.0" stroke-width="2.18"/>
<path d="M1839.5,1070.9C2454.9,1070.9 2454.9,1597.4 3070.4,1597.4" stroke-width="1.46"/>
<path d="M1839.5,1072.6C2454.9,1072.6 2454.9,1605.5 3070.4,1605.5" stroke-width="2.02"/>
<path d="M1839.5,1074.8C2454.9,1074.8 2454.9,1619.2 3070.4,1619.2" stroke-width="2.24"/>
<path d="M1839.5,1076.6C2454.9,1076.6 2454.9,1629.5 3070.4,1629.5" stroke-width="1.49"/>
<path d="M1839.5,1093.8C2454.9,1093.8 2454.9,1688.7 3070.4,1688.7" stroke-width="32.94"/>
<path d="M1839.5,1110.4C2454.9,1110.4 2454.9,1760.3 3070.4,1760.3" stroke-width="0.14"/>
<path d="M1839.5,1111.1C2454.9,1111.1 2454.9,1765.0 3070.4,1765.0" stroke-width="1.26"/>
<path d="M1839.5,1112.4C2454.9,1112.4 2454.9,1770.2 3070.4,1770.2" stroke-width="1.29"/>
<path d="M1839.5,1115.3C2454.9,1115.3 2454.9,1779.7 3070.4,1779.7" stroke-width="4.52"/>
<path d="M1839.5,1118.1C2454.9,1118.1 2454.9,1793.9 3070.4,1793.9" stroke-width="1.07"/>
<path d="M1839.5,1119.8C2454.9,1119.8 2454.9,1800.9 3070.4,1800.9" stroke-width="2.45"/>
<path d="M1839.5,1121.2C2454.9,1121.2 2454.9,1809.6 3070.4,1809.6" stroke-width="0.28"/>
<path d="M1839.5,1121.4C2454.9,1121.4 2454.9,1813.2 3070.4,1813.2" stroke-width="0.24"/>
</g>
<g stroke="#9170B8">
<path d="M1839.5,1122.5C2454.9,1122.5 2454.9,118.7 3070.4,118.7" stroke-width="1.90"/>
<path d="M1839.5,1123.7C2454.9,1123.7 2454.9,125.4 3070.4,125.4" stroke-width="0.50"/>
<path d="M1839.5,1125.4C2454.9,1125.4 2454.9,135.5 3070.4,135.5" stroke-width="2.83"/>
<path d="M1839.5,1127.2C2454.9,1127.2 2454.9,141.1 3070.4,141.1" stroke-width="0.76"/>
<path d="M1839.5,1128.1C2454.9,1128.1 2454.9,144.3 3070.4,144.3" stroke-width="1.20"/>
<path d="M1839.5,1128.9C2454.9,1128.9 2454.9,148.0 3070.4,148.0" stroke-width="0.32"/>
<path d="M1839.5,1132.5C2454.9,1132.5 2454.9,183.3 3070.4,183.3" stroke-width="6.82"/>
<path d="M1839.5,1136.7C2454.9,1136.7 2454.9,197.1 3070.4,197.1" stroke-width="1.59"/>
<path d="M1839.5,1137.6C2454.9,1137.6 2454.9,201.0 3070.4,201.0" stroke-width="0.28"/>
<path d="M1839.5,1138.0C2454.9,1138.0 2454.9,204.3 3070.4,204.3" stroke-width="0.55"/>
<path d="M1839.5,1138.5C2454.9,1138.5 2454.9,204.9 3070.4,204.9" stroke-width="0.35"/>
<path d="M1839.5,1138.9C2454.9,1138.9 2454.9,207.0 3070.4,207.0" stroke-width="0.46"/>
<path d="M1839.5,1139.5C2454.9,1139.5 2454.9,213.1 3070.4,213.1" stroke-width="0.67"/>
<path d="M1839.5,1143.2C2454.9,1143.2 2454.9,251.3 3070.4,251.3" stroke-width="6.82"/>
<path d="M1839.5,1146.8C2454.9,1146.8 2454.9,264.1 3070.4,264.1" stroke-width="0.29"/>
<path d="M1839.5,1147.3C2454.9,1147.3 2454.9,266.0 3070.4,266.0" stroke-width="0.70"/>
<path d="M1839.5,1148.0C2454.9,1148.0 2454.9,272.8 3070.4,272.8" stroke-width="0.72"/>
<path d="M1839.5,1149.2C2454.9,1149.2 2454.9,280.0 3070.4,280.0" stroke-width="1.71"/>
<path d="M1839.5,1150.2C2454.9,1150.2 2454.9,284.0 3070.4,284.0" stroke-width="0.26"/>
<path d="M1839.5,1150.6C2454.9,1150.6 2454.9,285.3 3070.4,285.3" stroke-width="0.64"/>
<path d="M1839.5,1151.2C2454.9,1151.2 2454.9,287.9 3070.4,287.9" stroke-width="0.48"/>
<path d="M1839.5,1151.9C2454.9,1151.9 2454.9,292.6 3070.4,292.6" stroke-width="1.00"/>
<path d="M1839.5,1152.5C2454.9,1152.5 2454.9,296.0 3070.4,296.0" stroke-width="0.19"/>
<path d="M1839.5,1180.5C2454.9,1180.5 2454.9,530.7 3070.4,530.7" stroke-width="55.68"/>
<path d="M1839.5,1209.0C2454.9,1209.0 2454.9,652.2 3070.4,652.2" stroke-width="1.34"/>
<path d="M1839.5,1209.9C2454.9,1209.9 2454.9,656.2 3070.4,656.2" stroke-width="0.46"/>
<path d="M1839.5,1210.3C2454.9,1210.3 2454.9,659.7 3070.4,659.7" stroke-width="0.36"/>
<path d="M1839.5,1210.9C2454.9,1210.9 2454.9,661.2 3070.4,661.2" stroke-width="0.96"/>
<path d="M1839.5,1212.4C2454.9,1212.4 2454.9,678.3 3070.4,678.3" stroke-width="1.99"/>
<path d="M1839.5,1213.6C2454.9,1213.6 2454.9,689.6 3070.4,689.6" stroke-width="0.37"/>
<path d="M1839.5,1214.4C2454.9,1214.4 2454.9,695.7 3070.4,695.7" stroke-width="1.33"/>
<path d="M1839.5,1215.3C2454.9,1215.3 2454.9,701.0 3070.4,701.0" stroke-width="0.40"/>
<path d="M1839.5,1215.6C2454.9,1215.6 2454.9,703.2 3070.4,703.2" stroke-width="0.15"/>
<path d="M1839.5,1218.3C2454.9,1218.3 2454.9,715.7 3070.4,715.7" stroke-width="5.31"/>
<path d="M1839.5,1221.2C2454.9,1221.2 2454.9,722.9 3070.4,722.9" stroke-width="0.46"/>
<path d="M1839.5,1221.9C2454.9,1221.9 2454.9,729.0 3070.4,729.0" stroke-width="0.98"/>
<path d="M1839.5,1223.3C2454.9,1223.3 2454.9,742.7 3070.4,742.7" stroke-width="1.81"/>
<path d="M1839.5,1225.5C2454.9,1225.5 2454.9,764.6 3070.4,764.6" stroke-width="2.62"/>
<path d="M1839.5,1227.0C2454.9,1227.0 2454.9,767.8 3070.4,767.8" stroke-width="0.23"/>
<path d="M1839.5,1229.0C2454.9,1229.0 2454.9,776.4 3070.4,776.4" stroke-width="3.84"/>
<path d="M1839.5,1231.6C2454.9,1231.6 2454.9,786.8 3070.4,786.8" stroke-width="1.30"/>
<path d="M1839.5,1232.6C2454.9,1232.6 2454.9,792.1 3070.4,792.1" stroke-width="0.85"/>
<path d="M1839.5,1233.7C2454.9,1233.7 2454.9,794.6 3070.4,794.6" stroke-width="1.32"/>
<path d="M1839.5,1234.5C2454.9,1234.5 2454.9,797.9 3070.4,797.9" stroke-width="0.23"/>
<path d="M1839.5,1234.8C2454.9,1234.8 2454.9,803.2 3070.4,803.2" stroke-width="0.31"/>
<path d="M1839.5,1235.3C2454.9,1235.3 2454.9,805.7 3070.4,805.7" stroke-width="0.73"/>
<path d="M1839.5,1236.0C2454.9,1236.0 2454.9,807.9 3070.4,807.9" stroke-width="0.65"/>
<path d="M1839.5,1242.2C2454.9,1242.2 2454.9,857.0 3070.4,857.0" stroke-width="11.76"/>
<path d="M1839.5,1280.2C2454.9,1280.2 2454.9,1062.1 3070.4,1062.1" stroke-width="64.31"/>
<path d="M1839.5,1313.4C2454.9,1313.4 2454.9,1150.4 3070.4,1150.4" stroke-width="1.97"/>
<path d="M1839.5,1315.4C2454.9,1315.4 2454.9,1168.9 3070.4,1168.9" stroke-width="2.03"/>
<path d="M1839.5,1317.9C2454.9,1317.9 2454.9,1182.0 3070.4,1182.0" stroke-width="3.08"/>
<path d="M1839.5,1319.9C2454.9,1319.9 2454.9,1187.1 3070.4,1187.1" stroke-width="0.95"/>
<path d="M1839.5,1322.8C2454.9,1322.8 2454.9,1209.1 3070.4,1209.1" stroke-width="4.71"/>
<path d="M1839.5,1325.6C2454.9,1325.6 2454.9,1221.3 3070.4,1221.3" stroke-width="1.00"/>
<path d="M1839.5,1326.4C2454.9,1326.4 2454.9,1225.6 3070.4,1225.6" stroke-width="0.64"/>
<path d="M1839.5,1327.4C2454.9,1327.4 2454.9,1228.6 3070.4,1228.6" stroke-width="1.34"/>
<path d="M1839.5,1328.7C2454.9,1328.7 2454.9,1233.7 3070.4,1233.7" stroke-width="1.21"/>
<path d="M1839.5,1330.1C2454.9,1330.1 2454.9,1241.8 3070.4,1241.8" stroke-width="1.60"/>
<path d="M1839.5,1331.1C2454.9,1331.1 2454.9,1249.6 3070.4,1249.6" stroke-width="0.46"/>
<path d="M1839.5,1331.5C2454.9,1331.5 2454.9,1251.6 3070.4,1251.6" stroke-width="0.20"/>
<path d="M1839.5,1331.9C2454.9,1331.9 2454.9,1252.8 3070.4,1252.8" stroke-width="0.60"/>
<path d="M1839.5,1332.4C2454.9,1332.4 2454.9,1255.5 3070.4,1255.5" stroke-width="0.47"/>
<path d="M1839.5,1332.7C2454.9,1332.7 2454.9,1258.2 3070.4,1258.2" stroke-width="0.18"/>
<path d="M1839.5,1333.2C2454.9,1333.2 2454.9,1264.3 3070.4,1264.3" stroke-width="0.76"/>
<path d="M1839.5,1333.7C2454.9,1333.7 2454.9,1267.2 3070.4,1267.2" stroke-width="0.24"/>
<path d="M1839.5,1334.1C2454.9,1334.1 2454.9,1270.9 3070.4,1270.9" stroke-width="0.68"/>
<path d="M1839.5,1335.0C2454.9,1335.0 2454.9,1275.0 3070.4,1275.0" stroke-width="0.95"/>
<path d="M1839.5,1337.8C2454.9,1337.8 2454.9,1288.4 3070.4,1288.4" stroke-width="4.74"/>
<path d="M1839.5,1340.3C2454.9,1340.3 2454.9,1293.7 3070.4,1293.7" stroke-width="0.27"/>
<path d="M1839.5,1340.6C2454.9,1340.6 2454.9,1294.8 3070.4,1294.8" stroke-width="0.23"/>
<path d="M1839.5,1341.2C2454.9,1341.2 2454.9,1297.4 3070.4,1297.4" stroke-width="1.00"/>
<path d="M1839.5,1344.8C2454.9,1344.8 2454.9,1319.8 3070.4,1319.8" stroke-width="6.27"/>
<path d="M1839.5,1348.3C2454.9,1348.3 2454.9,1331.3 3070.4,1331.3" stroke-width="0.74"/>
<path d="M1839.5,1349.3C2454.9,1349.3 2454.9,1337.3 3070.4,1337.3" stroke-width="1.18"/>
<path d="M1839.5,1350.2C2454.9,1350.2 2454.9,1341.1 3070.4,1341.1" stroke-width="0.75"/>
<path d="M1839.5,1354.9C2454.9,1354.9 2454.9,1369.9 3070.4,1369.9" stroke-width="8.63"/>
<path d="M1839.5,1359.6C2454.9,1359.6 2454.9,1384.1 3070.4,1384.1" stroke-width="0.74"/>
<path d="M1839.5,1360.7C2454.9,1360.7 2454.9,1387.1 3070.4,1387.1" stroke-width="1.44"/>
<path d="M1839.5,1361.8C2454.9,1361.8 2454.9,1389.4 3070.4,1389.4" stroke-width="0.81"/>
<path d="M1839.5,1363.0C2454.9,1363.0 2454.9,1393.1 3070.4,1393.1" stroke-width="1.47"/>
<path d="M1839.5,1363.8C2454.9,1363.8 2454.9,1396.7 3070.4,1396.7" stroke-width="0.25"/>
<path d="M1839.5,1364.0C2454.9,1364.0 2454.9,1397.4 3070.4,1397.4" stroke-width="0.09"/>
<path d="M1839.5,1364.2C2454.9,1364.2 2454.9,1398.1 3070.4,1398.1" stroke-width="0.38"/>
<path d="M1839.5,1364.8C2454.9,1364.8 2454.9,1402.3 3070.4,1402.3" stroke-width="0.76"/>
<path d="M1839.5,1366.9C2454.9,1366.9 2454.9,1415.3 3070.4,1415.3" stroke-width="3.46"/>
<path d="M1839.5,1372.6C2454.9,1372.6 2454.9,1449.7 3070.4,1449.7" stroke-width="7.84"/>
<path d="M1839.5,1377.6C2454.9,1377.6 2454.9,1467.3 3070.4,1467.3" stroke-width="2.20"/>
<path d="M1839.5,1379.4C2454.9,1379.4 2454.9,1473.5 3070.4,1473.5" stroke-width="1.39"/>
<path d="M1839.5,1380.4C2454.9,1380.4 2454.9,1476.6 3070.4,1476.6" stroke-width="0.66"/>
<path d="M1839.5,1381.4C2454.9,1381.4 2454.9,1480.1 3070.4,1480.1" stroke-width="1.39"/>
<path d="M1839.5,1382.4C2454.9,1382.4 2454.9,1483.2 3070.4,1483.2" stroke-width="0.65"/>
<path d="M1839.5,1386.3C2454.9,1386.3 2454.9,1506.6 3070.4,1506.6" stroke-width="7.06"/>
<path d="M1839.5,1390.7C2454.9,1390.7 2454.9,1522.0 3070.4,1522.0" stroke-width="1.64"/>
<path d="M1839.5,1392.1C2454.9,1392.1 2454.9,1531.1 3070.4,1531.1" stroke-width="1.30"/>
<path d="M1839.5,1392.9C2454.9,1392.9 2454.9,1537.3 3070.4,1537.3" stroke-width="0.29"/>
<path d="M1839.5,1393.3C2454.9,1393.3 2454.9,1541.2 3070.4,1541.2" stroke-width="0.50"/>
<path d="M1839.5,1394.0C2454.9,1394.0 2454.9,1543.7 3070.4,1543.7" stroke-width="0.90"/>
<path d="M1839.5,1395.3C2454.9,1395.3 2454.9,1554.9 3070.4,1554.9" stroke-width="1.60"/>
<path d="M1839.5,1396.3C2454.9,1396.3 2454.9,1560.6 3070.4,1560.6" stroke-width="0.50"/>
<path d="M1839.5,1399.4C2454.9,1399.4 2454.9,1569.3 3070.4,1569.3" stroke-width="5.70"/>
<path d="M1839.5,1402.5C2454.9,1402.5 2454.9,1577.5 3070.4,1577.5" stroke-width="0.41"/>
<path d="M1839.5,1403.1C2454.9,1403.1 2454.9,1580.1 3070.4,1580.1" stroke-width="0.75"/>
<path d="M1839.5,1404.4C2454.9,1404.4 2454.9,1591.1 3070.4,1591.1" stroke-width="1.90"/>
<path d="M1839.5,1405.7C2454.9,1405.7 2454.9,1598.5 3070.4,1598.5" stroke-width="0.82"/>
<path d="M1839.5,1406.9C2454.9,1406.9 2454.9,1607.2 3070.4,1607.2" stroke-width="1.40"/>
<path d="M1839.5,1408.8C2454.9,1408.8 2454.9,1621.5 3070.4,1621.5" stroke-width="2.40"/>
<path d="M1839.5,1411.1C2454.9,1411.1 2454.9,1631.4 3070.4,1631.4" stroke-width="2.27"/>
<path d="M1839.5,1428.7C2454.9,1428.7 2454.9,1721.6 3070.4,1721.6" stroke-width="32.94"/>
<path d="M1839.5,1445.3C2454.9,1445.3 2454.9,1760.5 3070.4,1760.5" stroke-width="0.31"/>
<path d="M1839.5,1446.1C2454.9,1446.1 2454.9,1766.3 3070.4,1766.3" stroke-width="1.33"/>
<path d="M1839.5,1447.6C2454.9,1447.6 2454.9,1771.6 3070.4,1771.6" stroke-width="1.60"/>
<path d="M1839.5,1450.2C2454.9,1450.2 2454.9,1783.9 3070.4,1783.9" stroke-width="3.69"/>
<path d="M1839.5,1452.8C2454.9,1452.8 2454.9,1795.2 3070.4,1795.2" stroke-width="1.47"/>
<path d="M1839.5,1455.9C2454.9,1455.9 2454.9,1804.4 3070.4,1804.4" stroke-width="4.71"/>
<path d="M1839.5,1458.8C2454.9,1458.8 2454.9,1810.3 3070.4,1810.3" stroke-width="1.00"/>
<path d="M1839.5,1459.8C2454.9,1459.8 2454.9,1813.8 3070.4,1813.8" stroke-width="1.00"/>
</g>
<g stroke="#CA8EAE">
<path d="M1839.5,1461.1C2454.9,1461.1 2454.9,114.8 3070.4,114.8" stroke-width="1.65"/>
<path d="M1839.5,1462.5C2454.9,1462.5 2454.9,120.2 3070.4,120.2" stroke-width="1.09"/>
<path d="M1839.5,1463.7C2454.9,1463.7 2454.9,126.3 3070.4,126.3" stroke-width="1.34"/>
<path d="M1839.5,1465.6C2454.9,1465.6 2454.9,138.2 3070.4,138.2" stroke-width="2.50"/>
<path d="M1839.5,1467.7C2454.9,1467.7 2454.9,145.8 3070.4,145.8" stroke-width="1.70"/>
<path d="M1839.5,1468.9C2454.9,1468.9 2454.9,148.4 3070.4,148.4" stroke-width="0.56"/>
<path d="M1839.5,1469.4C2454.9,1469.4 2454.9,149.5 3070.4,149.5" stroke-width="0.51"/>
<path d="M1839.5,1473.4C2454.9,1473.4 2454.9,190.5 3070.4,190.5" stroke-width="7.53"/>
<path d="M1839.5,1477.7C2454.9,1477.7 2454.9,198.3 3070.4,198.3" stroke-width="0.98"/>
<path d="M1839.5,1478.7C2454.9,1478.7 2454.9,201.7 3070.4,201.7" stroke-width="1.12"/>
<path d="M1839.5,1479.6C2454.9,1479.6 2454.9,205.4 3070.4,205.4" stroke-width="0.72"/>
<path d="M1839.5,1480.4C2454.9,1480.4 2454.9,207.6 3070.4,207.6" stroke-width="0.86"/>
<path d="M1839.5,1481.1C2454.9,1481.1 2454.9,213.6 3070.4,213.6" stroke-width="0.41"/>
<path d="M1839.5,1485.7C2454.9,1485.7 2454.9,259.2 3070.4,259.2" stroke-width="8.94"/>
<path d="M1839.5,1490.4C2454.9,1490.4 2454.9,264.4 3070.4,264.4" stroke-width="0.36"/>
<path d="M1839.5,1491.0C2454.9,1491.0 2454.9,266.8 3070.4,266.8" stroke-width="0.90"/>
<path d="M1839.5,1492.5C2454.9,1492.5 2454.9,274.2 3070.4,274.2" stroke-width="2.12"/>
<path d="M1839.5,1494.4C2454.9,1494.4 2454.9,281.6 3070.4,281.6" stroke-width="1.53"/>
<path d="M1839.5,1495.3C2454.9,1495.3 2454.9,283.0 3070.4,283.0" stroke-width="0.38"/>
<path d="M1839.5,1495.6C2454.9,1495.6 2454.9,285.7 3070.4,285.7" stroke-width="0.28"/>
<path d="M1839.5,1496.4C2454.9,1496.4 2454.9,288.8 3070.4,288.8" stroke-width="1.30"/>
<path d="M1839.5,1497.5C2454.9,1497.5 2454.9,293.5 3070.4,293.5" stroke-width="0.79"/>
<path d="M1839.5,1498.5C2454.9,1498.5 2454.9,296.8 3070.4,296.8" stroke-width="1.32"/>
<path d="M1839.5,1539.6C2454.9,1539.6 2454.9,599.0 3070.4,599.0" stroke-width="80.78"/>
<path d="M1839.5,1580.9C2454.9,1580.9 2454.9,653.8 3070.4,653.8" stroke-width="1.82"/>
<path d="M1839.5,1582.0C2454.9,1582.0 2454.9,658.9 3070.4,658.9" stroke-width="0.51"/>
<path d="M1839.5,1582.4C2454.9,1582.4 2454.9,660.0 3070.4,660.0" stroke-width="0.21"/>
<path d="M1839.5,1583.1C2454.9,1583.1 2454.9,662.2 3070.4,662.2" stroke-width="1.10"/>
<path d="M1839.5,1586.1C2454.9,1586.1 2454.9,681.9 3070.4,681.9" stroke-width="5.06"/>
<path d="M1839.5,1589.9C2454.9,1589.9 2454.9,697.6 3070.4,697.6" stroke-width="2.40"/>
<path d="M1839.5,1591.7C2454.9,1591.7 2454.9,701.8 3070.4,701.8" stroke-width="1.26"/>
<path d="M1839.5,1593.8C2454.9,1593.8 2454.9,719.9 3070.4,719.9" stroke-width="2.94"/>
<path d="M1839.5,1596.6C2454.9,1596.6 2454.9,730.8 3070.4,730.8" stroke-width="2.62"/>
<path d="M1839.5,1600.3C2454.9,1600.3 2454.9,746.0 3070.4,746.0" stroke-width="4.81"/>
<path d="M1839.5,1603.4C2454.9,1603.4 2454.9,766.6 3070.4,766.6" stroke-width="1.36"/>
<path d="M1839.5,1604.2C2454.9,1604.2 2454.9,768.1 3070.4,768.1" stroke-width="0.27"/>
<path d="M1839.5,1606.5C2454.9,1606.5 2454.9,780.5 3070.4,780.5" stroke-width="4.28"/>
<path d="M1839.5,1608.7C2454.9,1608.7 2454.9,783.4 3070.4,783.4" stroke-width="0.28"/>
<path d="M1839.5,1610.1C2454.9,1610.1 2454.9,788.7 3070.4,788.7" stroke-width="2.33"/>
<path d="M1839.5,1611.6C2454.9,1611.6 2454.9,798.4 3070.4,798.4" stroke-width="0.80"/>
<path d="M1839.5,1612.9C2454.9,1612.9 2454.9,799.7 3070.4,799.7" stroke-width="1.80"/>
<path d="M1839.5,1614.1C2454.9,1614.1 2454.9,808.5 3070.4,808.5" stroke-width="0.55"/>
<path d="M1839.5,1619.5C2454.9,1619.5 2454.9,868.0 3070.4,868.0" stroke-width="10.20"/>
<path d="M1839.5,1650.4C2454.9,1650.4 2454.9,1120.1 3070.4,1120.1" stroke-width="51.76"/>
<path d="M1839.5,1677.3C2454.9,1677.3 2454.9,1152.4 3070.4,1152.4" stroke-width="2.03"/>
<path d="M1839.5,1679.2C2454.9,1679.2 2454.9,1170.7 3070.4,1170.7" stroke-width="1.59"/>
<path d="M1839.5,1680.5C2454.9,1680.5 2454.9,1184.1 3070.4,1184.1" stroke-width="1.12"/>
<path d="M1839.5,1681.2C2454.9,1681.2 2454.9,1185.3 3070.4,1185.3" stroke-width="0.34"/>
<path d="M1839.5,1681.6C2454.9,1681.6 2454.9,1187.7 3070.4,1187.7" stroke-width="0.37"/>
<path d="M1839.5,1683.7C2454.9,1683.7 2454.9,1213.4 3070.4,1213.4" stroke-width="3.92"/>
<path d="M1839.5,1687.2C2454.9,1687.2 2454.9,1223.3 3070.4,1223.3" stroke-width="2.96"/>
<path d="M1839.5,1689.0C2454.9,1689.0 2454.9,1226.2 3070.4,1226.2" stroke-width="0.62"/>
<path d="M1839.5,1689.6C2454.9,1689.6 2454.9,1229.6 3070.4,1229.6" stroke-width="0.66"/>
<path d="M1839.5,1690.3C2454.9,1690.3 2454.9,1234.7 3070.4,1234.7" stroke-width="0.76"/>
<path d="M1839.5,1692.5C2454.9,1692.5 2454.9,1244.4 3070.4,1244.4" stroke-width="3.63"/>
<path d="M1839.5,1694.7C2454.9,1694.7 2454.9,1246.8 3070.4,1246.8" stroke-width="0.65"/>
<path d="M1839.5,1695.4C2454.9,1695.4 2454.9,1250.2 3070.4,1250.2" stroke-width="0.75"/>
<path d="M1839.5,1696.0C2454.9,1696.0 2454.9,1252.0 3070.4,1252.0" stroke-width="0.57"/>
<path d="M1839.5,1697.1C2454.9,1697.1 2454.9,1256.6 3070.4,1256.6" stroke-width="1.68"/>
<path d="M1839.5,1699.1C2454.9,1699.1 2454.9,1265.8 3070.4,1265.8" stroke-width="2.15"/>
<path d="M1839.5,1700.3C2454.9,1700.3 2454.9,1267.5 3070.4,1267.5" stroke-width="0.35"/>
<path d="M1839.5,1701.3C2454.9,1701.3 2454.9,1272.0 3070.4,1272.0" stroke-width="1.60"/>
<path d="M1839.5,1702.5C2454.9,1702.5 2454.9,1275.9 3070.4,1275.9" stroke-width="0.76"/>
<path d="M1839.5,1704.1C2454.9,1704.1 2454.9,1292.1 3070.4,1292.1" stroke-width="2.61"/>
<path d="M1839.5,1705.7C2454.9,1705.7 2454.9,1294.1 3070.4,1294.1" stroke-width="0.44"/>
<path d="M1839.5,1706.0C2454.9,1706.0 2454.9,1295.0 3070.4,1295.0" stroke-width="0.23"/>
<path d="M1839.5,1706.5C2454.9,1706.5 2454.9,1298.2 3070.4,1298.2" stroke-width="0.69"/>
<path d="M1839.5,1708.8C2454.9,1708.8 2454.9,1324.9 3070.4,1324.9" stroke-width="3.92"/>
<path d="M1839.5,1711.4C2454.9,1711.4 2454.9,1332.3 3070.4,1332.3" stroke-width="1.26"/>
<path d="M1839.5,1712.2C2454.9,1712.2 2454.9,1338.1 3070.4,1338.1" stroke-width="0.44"/>
<path d="M1839.5,1712.8C2454.9,1712.8 2454.9,1341.8 3070.4,1341.8" stroke-width="0.66"/>
<path d="M1839.5,1717.4C2454.9,1717.4 2454.9,1378.6 3070.4,1378.6" stroke-width="8.63"/>
<path d="M1839.5,1721.9C2454.9,1721.9 2454.9,1388.1 3070.4,1388.1" stroke-width="0.42"/>
<path d="M1839.5,1723.2C2454.9,1723.2 2454.9,1394.9 3070.4,1394.9" stroke-width="2.16"/>
<path d="M1839.5,1724.4C2454.9,1724.4 2454.9,1397.5 3070.4,1397.5" stroke-width="0.13"/>
<path d="M1839.5,1725.3C2454.9,1725.3 2454.9,1403.6 3070.4,1403.6" stroke-width="1.81"/>
<path d="M1839.5,1726.4C2454.9,1726.4 2454.9,1405.9 3070.4,1405.9" stroke-width="0.22"/>
<path d="M1839.5,1728.7C2454.9,1728.7 2454.9,1419.3 3070.4,1419.3" stroke-width="4.41"/>
<path d="M1839.5,1734.8C2454.9,1734.8 2454.9,1457.5 3070.4,1457.5" stroke-width="7.84"/>
<path d="M1839.5,1739.8C2454.9,1739.8 2454.9,1469.5 3070.4,1469.5" stroke-width="2.14"/>
<path d="M1839.5,1741.1C2454.9,1741.1 2454.9,1475.8 3070.4,1475.8" stroke-width="0.46"/>
<path d="M1839.5,1742.1C2454.9,1742.1 2454.9,1481.6 3070.4,1481.6" stroke-width="1.60"/>
<path d="M1839.5,1743.3C2454.9,1743.3 2454.9,1483.9 3070.4,1483.9" stroke-width="0.68"/>
<path d="M1839.5,1746.4C2454.9,1746.4 2454.9,1512.8 3070.4,1512.8" stroke-width="5.49"/>
<path d="M1839.5,1749.3C2454.9,1749.3 2454.9,1517.9 3070.4,1517.9" stroke-width="0.49"/>
<path d="M1839.5,1750.7C2454.9,1750.7 2454.9,1524.0 3070.4,1524.0" stroke-width="2.22"/>
<path d="M1839.5,1752.8C2454.9,1752.8 2454.9,1532.7 3070.4,1532.7" stroke-width="1.98"/>
<path d="M1839.5,1754.5C2454.9,1754.5 2454.9,1535.5 3070.4,1535.5" stroke-width="1.49"/>
<path d="M1839.5,1755.5C2454.9,1755.5 2454.9,1537.7 3070.4,1537.7" stroke-width="0.52"/>
<path d="M1839.5,1756.2C2454.9,1756.2 2454.9,1544.5 3070.4,1544.5" stroke-width="0.73"/>
<path d="M1839.5,1757.7C2454.9,1757.7 2454.9,1546.4 3070.4,1546.4" stroke-width="2.24"/>
<path d="M1839.5,1760.1C2454.9,1760.1 2454.9,1548.8 3070.4,1548.8" stroke-width="2.59"/>
<path d="M1839.5,1762.0C2454.9,1762.0 2454.9,1556.3 3070.4,1556.3" stroke-width="1.27"/>
<path d="M1839.5,1762.9C2454.9,1762.9 2454.9,1559.3 3070.4,1559.3" stroke-width="0.63"/>
<path d="M1839.5,1763.5C2454.9,1763.5 2454.9,1561.1 3070.4,1561.1" stroke-width="0.48"/>
<path d="M1839.5,1765.6C2454.9,1765.6 2454.9,1574.1 3070.4,1574.1" stroke-width="3.82"/>
<path d="M1839.5,1767.7C2454.9,1767.7 2454.9,1578.4 3070.4,1578.4" stroke-width="0.32"/>
<path d="M1839.5,1768.2C2454.9,1768.2 2454.9,1580.8 3070.4,1580.8" stroke-width="0.71"/>
<path d="M1839.5,1770.0C2454.9,1770.0 2454.9,1593.5 3070.4,1593.5" stroke-width="2.91"/>
<path d="M1839.5,1772.1C2454.9,1772.1 2454.9,1599.5 3070.4,1599.5" stroke-width="1.17"/>
<path d="M1839.5,1774.4C2454.9,1774.4 2454.9,1609.6 3070.4,1609.6" stroke-width="3.47"/>
<path d="M1839.5,1777.4C2454.9,1777.4 2454.9,1623.9 3070.4,1623.9" stroke-width="2.46"/>
<path d="M1839.5,1779.2C2454.9,1779.2 2454.9,1633.1 3070.4,1633.1" stroke-width="1.26"/>
<path d="M1839.5,1790.8C2454.9,1790.8 2454.9,1749.0 3070.4,1749.0" stroke-width="21.96"/>
<path d="M1839.5,1801.9C2454.9,1801.9 2454.9,1760.8 3070.4,1760.8" stroke-width="0.16"/>
<path d="M1839.5,1802.2C2454.9,1802.2 2454.9,1767.2 3070.4,1767.2" stroke-width="0.56"/>
<path d="M1839.5,1803.4C2454.9,1803.4 2454.9,1773.3 3070.4,1773.3" stroke-width="1.78"/>
<path d="M1839.5,1807.3C2454.9,1807.3 2454.9,1788.7 3070.4,1788.7" stroke-width="5.98"/>
<path d="M1839.5,1811.1C2454.9,1811.1 2454.9,1796.7 3070.4,1796.7" stroke-width="1.55"/>
<path d="M1839.5,1812.6C2454.9,1812.6 2454.9,1807.6 3070.4,1807.6" stroke-width="1.54"/>
<path d="M1839.5,1813.8C2454.9,1813.8 2454.9,1811.2 3070.4,1811.2" stroke-width="0.90"/>
<path d="M1839.5,1814.6C2454.9,1814.6 2454.9,1814.6 3070.4,1814.6" stroke-width="0.72"/>
</g>
</g>
<rect x="1775.00" y="112.50" width="64.50" height="327.44" fill="#54B399" fill-opacity="0.6"/>
<rect x="1775.00" y="439.94" width="64.50" height="343.62" fill="#6092C0" fill-opacity="0.6"/>
<rect x="1775.00" y="783.56" width="64.50" height="338.00" fill="#D36086" fill-opacity="0.6"/>
<rect x="1775.00" y="1121.56" width="64.50" height="338.73" fill="#9170B8" fill-opacity="0.6"/>
<rect x="1775.00" y="1460.29" width="64.50" height="354.71" fill="#CA8EAE" fill-opacity="0.6"/>
<g font-family="Liberation Sans, Arial, sans-serif" font-weight="bold" font-size="22" fill="#000">
<text x="1855.5" y="276.2" dominant-baseline="middle">ios</text>
<text x="1855.5" y="611.8" dominant-baseline="middle">osx</text>
<text x="1855.5" y="952.6" dominant-baseline="middle">win 7</text>
<text x="1855.5" y="1290.9" dominant-baseline="middle">win 8</text>
<text x="1855.5" y="1637.6" dominant-baseline="middle">win xp</text>
<text x="3054.4" y="172.0" text-anchor="end" dominant-baseline="middle">BD</text>
<text x="3054.4" y="238.8" text-anchor="end" dominant-baseline="middle">BR</text>
<text x="3054.4" y="468.4" text-anchor="end" dominant-baseline="middle">CN</text>
<text x="3054.4" y="840.9" text-anchor="end" dominant-baseline="middle">ID</text>
<text x="3054.4" y="1009.5" text-anchor="end" dominant-baseline="middle">IN</text>
<text x="3054.4" y="1201.6" text-anchor="end" dominant-baseline="middle">JP</text>
<text x="3054.4" y="1312.7" text-anchor="end" dominant-baseline="middle">MX</text>
<text x="3054.4" y="1362.5" text-anchor="end" dominant-baseline="middle">NG</text>
<text x="3054.4" y="1441.5" text-anchor="end" dominant-baseline="middle">PK</text>
<text x="3054.4" y="1499.9" text-anchor="end" dominant-baseline="middle">RU</text>
<text x="3054.4" y="1696.9" text-anchor="end" dominant-baseline="middle">US</text>
</g>
<line x1="1711.0" y1="112.5" x2="1711.0" y2="1814.8" stroke="#e6eaf2" stroke-width="2"/>
<line x1="1711.0" y1="1814.8" x2="3200.0" y2="1814.8" stroke="#e6eaf2" stroke-width="2"/>
<g font-family='"Liberation Sans", Arial, sans-serif' font-size="20" fill="#5a6579">
<line x1="1701.0" y1="1814.8" x2="1711.0" y2="1814.8" stroke="#e6eaf2" stroke-width="2"/>
<text x="1697.0" y="1820.3" text-anchor="end">0</text>
<line x1="1701.0" y1="1658.4" x2="1711.0" y2="1658.4" stroke="#e6eaf2" stroke-width="2"/>
<text x="1697.0" y="1663.9" text-anchor="end">200</text>
<line x1="1701.0" y1="1501.9" x2="1711.0" y2="1501.9" stroke="#e6eaf2" stroke-width="2"/>
<text x="1697.0" y="1507.4" text-anchor="end">400</text>
<line x1="1701.0" y1="1345.5" x2="1711.0" y2="1345.5" stroke="#e6eaf2" stroke-width="2"/>
<text x="1697.0" y="1351.0" text-anchor="end">600</text>
<line x1="1701.0" y1="1189.1" x2="1711.0" y2="1189.1" stroke="#e6eaf2" stroke-width="2"/>
<text x="1697.0" y="1194.6" text-anchor="end">800</text>
<line x1="1701.0" y1="1032.7" x2="1711.0" y2="1032.7" stroke="#e6eaf2" stroke-width="2"/>
<text x="1697.0" y="1038.2" text-anchor="end">1,000</text>
<line x1="1701.0" y1="876.2" x2="1711.0" y2="876.2" stroke="#e6eaf2" stroke-width="2"/>
<text x="1697.0" y="881.7" text-anchor="end">1,200</text>
<line x1="1701.0" y1="719.8" x2="1711.0" y2="719.8" stroke="#e6eaf2" stroke-width="2"/>
<text x="1697.0" y="725.3" text-anchor="end">1,400</text>
<line x1="1701.0" y1="563.4" x2="1711.0" y2="563.4" stroke="#e6eaf2" stroke-width="2"/>
<text x="1697.0" y="568.9" text-anchor="end">1,600</text>
<line x1="1701.0" y1="407.0" x2="1711.0" y2="407.0" stroke="#e6eaf2" stroke-width="2"/>
<text x="1697.0" y="412.5" text-anchor="end">1,800</text>
<line x1="1701.0" y1="250.5" x2="1711.0" y2="250.5" stroke="#e6eaf2" stroke-width="2"/>
<text x="1697.0" y="256.0" text-anchor="end">2,000</text>
<line x1="1807.2" y1="1814.8" x2="1807.2" y2="1824.8" stroke="#e6eaf2" stroke-width="2"/>
<text x="1807.2" y="1845.8" text-anchor="middle">Source</text>
<line x1="3102.6" y1="1814.8" x2="3102.6" y2="1824.8" stroke="#e6eaf2" stroke-width="2"/>
<text x="3102.6" y="1845.8" text-anchor="middle">Destination</text>
</g>
</svg>
<div style="position:absolute;left:3232px;top:0;width:26px;height:1898px;background:#eff1f6"></div>
<div style="position:absolute;left:3240px;top:386px;width:14px;height:776px;border-radius:7px;background:#acb1bb"></div>
<div style="position:absolute;left:0;top:0;width:2px;height:1898px;background:linear-gradient(to bottom,#5b7db6,#6a89be)"></div>
<svg width="3258" height="12" viewBox="0 0 3258 12"><path d="M2,0L12,0A10,10 0 0 0 2,10Z" fill="#5b7db6"/><path d="M3258,0L3248,0A10,10 0 0 1 3258,10Z" fill="#4f74ad"/></svg>
<svg width="14" height="12" viewBox="0 0 14 12" style="top:1886px"><path d="M2,12L12,12A10,10 0 0 1 2,2Z" fill="#6a89be"/></svg>
<div style="position:absolute;left:0;top:1836px;width:3232px;height:62px;background:radial-gradient(ellipse 2300px 64px at 1250px 100%,rgba(20,30,50,0.075),rgba(20,30,50,0))"></div>
<div style="position:absolute;left:18px;top:1804px;width:316px;height:80px;border-radius:9px;background:#000;box-shadow:0 5px 14px 2px rgba(10,15,30,.22),0 1px 4px rgba(10,15,30,.18)"><svg width="33" height="33" viewBox="0 0 32 32" style="left:15.5px;top:23px" stroke="#fff" stroke-width="0.9"><circle cx="5.8" cy="15.1" r="4.9" fill="#1BA9F5"/><circle cx="26" cy="17.3" r="5.1" fill="#0B64DD"/><circle cx="8" cy="7.2" r="3.1" fill="#F04E98"/><circle cx="23.8" cy="25.3" r="2.9" fill="#93C90E"/><circle cx="12.8" cy="22.8" r="8.1" fill="#00BFB3"/><circle cx="19.7" cy="8.9" r="7.6" fill="#FEC514"/></svg><div style="position:absolute;left:65px;top:23px;font-size:28px;line-height:34px;color:#fff;font-weight:400;white-space:nowrap;letter-spacing:0.85px;-webkit-text-stroke:0.7px #fff">Exit full screen</div><svg width="24" height="24" viewBox="0 0 24 24" style="left:276px;top:28px" fill="none" stroke="#fff" stroke-width="1.6"><rect x="1" y="1" width="22" height="22" rx="2.5"/><path d="M10 5v5H5M14 5v5h5M10 19v-5H5M14 19v-5h5"/></svg></div>
</body></html>
